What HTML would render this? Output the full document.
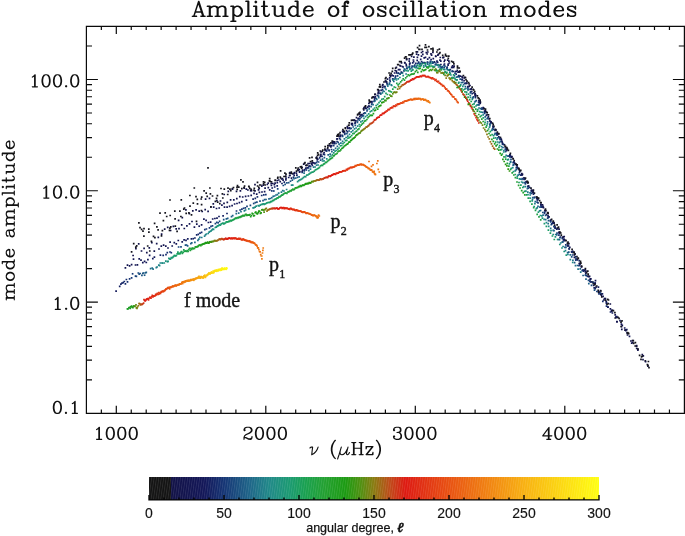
<!DOCTYPE html><html><head><meta charset="utf-8"><title>Amplitude of oscillation modes</title><style>html,body{margin:0;padding:0;background:#fff}body{width:685px;height:536px;position:relative;overflow:hidden;font-family:"Liberation Sans",sans-serif}.t{position:absolute;white-space:nowrap;color:#111;line-height:1;opacity:0.99;will-change:opacity}.s{font-family:"Liberation Serif",serif;font-size:20px;-webkit-text-stroke:0.38px #111}.s sub{font-size:12px;vertical-align:baseline;position:relative;top:6.9px;margin-left:0.3px}.c{font-family:"Liberation Sans",sans-serif;font-size:14px;transform:translateX(-50%) scaleX(1.0);-webkit-text-stroke:0.15px #111}.a{font-family:"Liberation Sans",sans-serif;font-size:13.4px;transform:translateX(-50%) scaleX(0.935);-webkit-text-stroke:0.25px #111}.h{position:absolute;color:transparent;white-space:nowrap;font-family:"Liberation Serif",serif;line-height:1;overflow:hidden}</style></head><body><svg width="685" height="536" viewBox="0 0 685 536" style="position:absolute;left:0;top:0"><rect x="0" y="0" width="685" height="536" fill="#fff"/><g fill="none" stroke-width="1.7" stroke-linecap="square"><path d="M127.4 308.8h0M447.9 75.5h0M484.7 124.4h0M520.1 188.0h0" stroke="#21a02e"/><path d="M128.0 309.0h0M195.9 246.8h0M246.9 215.4h0M294.5 189.2h0M339.9 151.0h0M369.1 116.5h0M411.8 74.1h0M449.2 74.4h0M486.1 127.2h0M521.7 190.6h0" stroke="#219f2b"/><path d="M128.9 307.8h0M197.3 246.7h0M248.4 215.1h0" stroke="#209e28"/><path d="M129.5 307.4h0M297.0 187.5h0M453.2 77.8h0M490.4 135.4h0" stroke="#1f9e25"/><path d="M130.3 308.4h0M199.4 245.0h0M250.7 216.6h0M454.5 82.9h0M491.9 139.4h0" stroke="#1f9d22"/><path d="M130.8 306.8h0M299.5 186.7h0M345.3 145.5h0M417.8 72.4h0M455.8 82.5h0M493.3 141.4h0" stroke="#1e9d20"/><path d="M131.5 306.1h0M201.5 244.5h0M252.9 213.8h0M375.5 110.2h0" stroke="#1d9c1d"/><path d="M132.2 307.2h0M202.9 244.0h0M254.4 215.5h0" stroke="#1c9c1a"/><path d="M132.9 307.7h0M303.6 185.3h0M349.8 142.2h0M422.4 69.7h0M460.9 89.4h0M498.8 150.2h0" stroke="#1c9b17"/><path d="M133.6 306.0h0" stroke="#209910"/><path d="M134.2 306.3h0M310.8 182.8h0M471.9 107.0h0" stroke="#399410"/><path d="M135.0 306.2h0" stroke="#528e10"/><path d="M136.0 304.9h0" stroke="#608a10"/><path d="M136.3 307.8h0" stroke="#6c8510"/><path d="M137.0 308.4h0" stroke="#778110"/><path d="M137.4 307.1h0" stroke="#837d10"/><path d="M138.3 305.8h0" stroke="#8d7711"/><path d="M139.1 303.5h0M267.7 210.1h0" stroke="#966f12"/><path d="M139.5 303.6h0" stroke="#9f6713"/><path d="M140.4 304.9h0M493.7 148.2h0" stroke="#a75f14"/><path d="M140.6 304.0h0M458.1 86.4h0" stroke="#b05716"/><path d="M141.4 304.5h0" stroke="#b84f17"/><path d="M142.1 304.4h0M321.7 179.4h0" stroke="#c14718"/><path d="M142.6 304.1h0M462.0 92.1h0" stroke="#c63e16"/><path d="M143.6 303.2h0M373.5 121.6h0" stroke="#cc3615"/><path d="M144.0 299.7h0" stroke="#d42813"/><path d="M144.7 300.5h0" stroke="#dd1a10"/><path d="M145.3 301.0h0M279.2 208.7h0M332.4 175.2h0M468.7 102.9h0" stroke="#de1b10"/><path d="M146.1 299.9h0M229.6 238.2h0M280.0 207.9h0M333.2 174.3h0M380.8 115.2h0M415.2 78.0h0M469.6 104.3h0" stroke="#de1c10"/><path d="M146.6 299.0h0M230.3 238.5h0M280.7 207.5h0M333.9 174.2h0" stroke="#df1d11"/><path d="M147.3 298.9h0M281.4 207.5h0M334.7 173.8h0M382.4 113.6h0M417.0 76.8h0M471.5 107.6h0" stroke="#df1e11"/><path d="M147.8 298.7h0M231.6 238.0h0M282.8 207.8h0M418.8 76.8h0M473.3 111.0h0" stroke="#df2011"/><path d="M148.5 299.9h0M232.2 238.6h0M283.5 207.7h0M336.2 173.4h0M384.0 113.3h0M419.6 76.7h0M474.2 113.8h0" stroke="#df2111"/><path d="M148.8 298.5h0M284.2 208.7h0M336.9 173.4h0M384.8 112.4h0M420.5 76.2h0M475.1 115.5h0" stroke="#df2211"/><path d="M149.9 297.3h0M232.8 238.4h0M284.9 207.9h0M337.7 173.1h0M385.6 112.1h0M421.4 76.7h0M476.1 117.7h0" stroke="#df2311"/><path d="M150.2 297.7h0M234.1 238.0h0M285.6 208.4h0M423.1 75.7h0M477.9 120.9h0M478.8 123.0h0" stroke="#df2511"/><path d="M151.0 298.2h0M286.3 208.3h0M339.2 172.2h0M387.2 111.0h0M424.0 75.7h0" stroke="#df2611"/><path d="M151.7 296.7h0" stroke="#e02712"/><path d="M152.3 295.4h0M235.4 238.0h0M287.7 208.5h0M340.7 171.8h0M388.8 109.7h0M425.7 76.6h0M426.6 77.0h0" stroke="#e02812"/><path d="M153.0 296.8h0M236.0 238.4h0M289.1 208.8h0M342.1 171.5h0M428.3 76.6h0" stroke="#e02a12"/><path d="M153.2 295.9h0M236.7 239.0h0M289.8 209.3h0M390.4 108.0h0M429.2 77.4h0" stroke="#e02b12"/><path d="M154.0 296.2h0M237.3 239.1h0M290.5 208.4h0M342.9 170.8h0M391.1 107.8h0M430.1 77.5h0" stroke="#e02c12"/><path d="M154.6 296.0h0M291.2 208.7h0M343.6 170.8h0M391.9 107.4h0M430.9 77.8h0" stroke="#e02d12"/><path d="M155.3 295.6h0" stroke="#e12e12"/><path d="M155.7 294.3h0M239.2 239.2h0M293.3 209.5h0M345.8 170.5h0M433.4 79.0h0" stroke="#e13012"/><path d="M156.4 294.8h0M294.0 209.4h0M346.5 169.3h0M394.3 106.2h0M434.3 79.0h0" stroke="#e13112"/><path d="M157.0 294.1h0M436.0 79.5h0" stroke="#e13312"/><path d="M157.4 293.3h0M241.1 239.5h0M296.0 210.3h0M348.0 168.7h0M436.8 81.1h0" stroke="#e23412"/><path d="M158.2 294.5h0M348.8 168.7h0M438.5 81.4h0" stroke="#e23611"/><path d="M158.9 292.7h0M241.7 239.7h0M296.7 209.8h0M397.4 104.1h0" stroke="#e23711"/><path d="M159.3 293.9h0M242.3 239.8h0M297.4 210.7h0M440.2 83.3h0" stroke="#e33911"/><path d="M160.2 293.1h0M398.1 104.3h0M441.0 84.4h0" stroke="#e33a11"/><path d="M160.5 293.3h0M242.9 239.1h0M298.1 210.7h0M350.2 167.5h0M441.8 84.5h0" stroke="#e33b11"/><path d="M161.1 292.1h0M243.6 239.1h0M298.8 211.0h0M351.0 167.3h0M442.6 85.8h0" stroke="#e43d11"/><path d="M161.5 291.7h0M443.4 85.7h0" stroke="#e43e11"/><path d="M162.4 291.7h0M299.5 211.1h0" stroke="#e44011"/><path d="M162.7 291.1h0M244.8 239.9h0M400.5 103.0h0" stroke="#e54111"/><path d="M163.4 291.6h0M300.2 211.1h0M352.4 167.4h0M445.9 89.2h0" stroke="#e54211"/><path d="M164.1 290.9h0M300.9 211.1h0M353.1 167.2h0M401.3 103.0h0M447.6 90.6h0" stroke="#e54411"/><path d="M164.6 290.4h0M246.1 240.3h0M448.4 90.9h0" stroke="#e64511"/><path d="M165.0 290.4h0M246.7 240.8h0M449.2 91.9h0" stroke="#e64711"/><path d="M165.8 289.4h0M354.6 166.7h0M450.0 93.1h0" stroke="#e64810"/><path d="M166.0 289.0h0M451.6 94.8h0" stroke="#e74a10"/><path d="M166.7 289.1h0" stroke="#e74c10"/><path d="M167.4 288.2h0M454.0 97.0h0" stroke="#e74e10"/><path d="M167.9 287.7h0M249.2 240.9h0M304.2 211.9h0M356.8 165.5h0M454.9 98.8h0" stroke="#e84f10"/><path d="M168.4 288.1h0M249.8 241.7h0M304.9 212.1h0M357.5 164.8h0M456.5 100.4h0" stroke="#e85110"/><path d="M169.2 287.4h0M305.6 212.9h0" stroke="#e85310"/><path d="M169.6 288.9h0M306.3 213.4h0" stroke="#e95410"/><path d="M170.0 287.5h0M251.0 242.4h0M307.0 212.8h0M408.1 100.4h0" stroke="#e95610"/><path d="M170.7 287.1h0M251.6 242.2h0M307.6 213.2h0M408.9 99.8h0" stroke="#e95810"/><path d="M171.1 287.3h0M252.2 242.6h0M308.3 213.5h0M361.1 164.1h0" stroke="#ea5a10"/><path d="M171.8 287.1h0M309.0 213.6h0M410.4 99.4h0" stroke="#ea5b10"/><path d="M172.6 286.1h0M252.8 242.1h0M309.7 214.0h0" stroke="#ea5d10"/><path d="M172.7 286.4h0M362.5 164.5h0M411.9 99.9h0" stroke="#ea5e10"/><path d="M173.4 286.7h0M311.0 214.5h0M363.2 164.6h0M413.4 99.4h0" stroke="#eb6010"/><path d="M173.9 286.0h0M254.0 243.1h0" stroke="#eb6110"/><path d="M174.6 285.9h0M414.9 99.5h0" stroke="#eb6310"/><path d="M175.3 285.2h0M254.6 243.3h0M312.3 215.2h0M364.6 165.6h0" stroke="#eb6410"/><path d="M175.3 285.6h0M313.0 215.7h0M365.4 165.9h0" stroke="#ec6510"/><path d="M176.2 286.0h0M313.7 215.3h0M366.1 166.8h0" stroke="#ec6710"/><path d="M176.6 285.4h0M255.9 244.8h0M366.8 167.2h0M417.1 98.6h0" stroke="#ec6810"/><path d="M177.3 285.2h0M418.6 98.4h0" stroke="#ec6a10"/><path d="M177.6 285.1h0" stroke="#ed6b10"/><path d="M178.3 284.6h0M315.7 215.8h0M368.9 168.3h0M420.2 98.5h0" stroke="#ed6c10"/><path d="M178.9 285.0h0M316.3 216.7h0M370.4 170.1h0M421.7 99.4h0" stroke="#ed6e10"/><path d="M179.2 284.4h0M257.7 247.8h0M371.1 169.8h0M422.4 99.2h0M371.5 166.4h0" stroke="#ed6f10"/><path d="M179.9 283.9h0M258.3 247.9h0M373.0 164.8h0" stroke="#ed7110"/><path d="M180.4 284.1h0M317.7 217.0h0M373.2 172.1h0M424.6 99.7h0" stroke="#ee7210"/><path d="M181.1 283.8h0M258.9 249.7h0M373.9 172.4h0M425.4 99.7h0M374.2 171.3h0M317.2 217.9h0" stroke="#ee7310"/><path d="M181.8 282.3h0M426.1 100.5h0" stroke="#ee7510"/><path d="M182.3 282.9h0M260.1 251.8h0M375.3 174.3h0M426.8 100.6h0M378.3 169.3h0M379.3 172.0h0" stroke="#ee7610"/><path d="M182.6 283.6h0" stroke="#ef7710"/><path d="M182.9 281.9h0M429.0 102.1h0" stroke="#ef7910"/><path d="M183.6 281.9h0M261.3 256.0h0M429.8 102.6h0M263.2 248.0h0M262.5 253.0h0M262.9 250.4h0M261.8 256.0h0" stroke="#ef7a10"/><path d="M184.0 282.4h0" stroke="#ef7b10"/><path d="M184.5 281.3h0" stroke="#ef7d10"/><path d="M185.0 282.0h0" stroke="#f07e10"/><path d="M185.6 281.6h0" stroke="#f08010"/><path d="M185.9 280.9h0" stroke="#f08110"/><path d="M186.9 280.6h0" stroke="#f08210"/><path d="M187.1 281.1h0" stroke="#f18410"/><path d="M187.7 280.7h0" stroke="#f18510"/><path d="M188.4 280.3h0" stroke="#f18710"/><path d="M188.8 281.1h0" stroke="#f18810"/><path d="M189.2 280.6h0" stroke="#f28910"/><path d="M189.7 280.4h0" stroke="#f28b10"/><path d="M190.5 280.6h0" stroke="#f28c10"/><path d="M190.8 279.6h0" stroke="#f28d10"/><path d="M191.3 280.2h0" stroke="#f28f10"/><path d="M191.7 279.9h0" stroke="#f39010"/><path d="M192.4 279.5h0" stroke="#f39110"/><path d="M192.9 279.6h0" stroke="#f39310"/><path d="M193.7 279.1h0" stroke="#f39410"/><path d="M193.7 280.3h0" stroke="#f49510"/><path d="M194.1 279.4h0" stroke="#f49710"/><path d="M194.6 279.4h0" stroke="#f49810"/><path d="M195.4 279.0h0" stroke="#f49a10"/><path d="M195.6 278.4h0" stroke="#f59c10"/><path d="M196.4 278.5h0" stroke="#f59e10"/><path d="M196.5 278.1h0" stroke="#f59f10"/><path d="M197.2 278.2h0" stroke="#f6a110"/><path d="M198.0 277.9h0" stroke="#f6a310"/><path d="M198.3 277.7h0" stroke="#f6a510"/><path d="M198.4 277.1h0" stroke="#f7a710"/><path d="M199.0 276.4h0" stroke="#f7a910"/><path d="M199.3 278.0h0" stroke="#f7ab10"/><path d="M200.1 277.1h0" stroke="#f7ad10"/><path d="M200.4 278.2h0" stroke="#f8af10"/><path d="M201.1 276.7h0" stroke="#f8b110"/><path d="M201.4 276.9h0" stroke="#f8b210"/><path d="M202.1 277.6h0" stroke="#f8b410"/><path d="M202.6 277.1h0" stroke="#f9b510"/><path d="M203.1 277.9h0" stroke="#f9b710"/><path d="M203.4 277.7h0" stroke="#f9b810"/><path d="M203.8 276.0h0" stroke="#f9ba10"/><path d="M204.2 276.8h0" stroke="#f9bc10"/><path d="M204.8 275.2h0" stroke="#f9bd10"/><path d="M205.4 277.4h0" stroke="#f9bf10"/><path d="M205.6 276.4h0" stroke="#fac010"/><path d="M206.5 275.5h0" stroke="#fac210"/><path d="M206.7 275.6h0" stroke="#fac310"/><path d="M207.4 274.9h0" stroke="#fac510"/><path d="M207.7 274.5h0" stroke="#fac710"/><path d="M208.0 274.4h0" stroke="#fac810"/><path d="M208.6 274.0h0" stroke="#fbca10"/><path d="M209.0 272.9h0" stroke="#fbcb10"/><path d="M209.4 273.8h0" stroke="#fbcd10"/><path d="M210.1 274.0h0" stroke="#fbcf10"/><path d="M210.6 273.1h0" stroke="#fbd010"/><path d="M211.1 273.2h0" stroke="#fbd210"/><path d="M211.2 272.6h0" stroke="#fcd310"/><path d="M211.6 272.0h0" stroke="#fcd510"/><path d="M212.1 272.7h0" stroke="#fcd710"/><path d="M212.7 272.9h0" stroke="#fcd810"/><path d="M213.2 271.1h0" stroke="#fcda10"/><path d="M213.6 272.8h0" stroke="#fcdb10"/><path d="M214.1 271.9h0" stroke="#fcdd10"/><path d="M214.7 270.5h0" stroke="#fcde10"/><path d="M214.7 271.1h0" stroke="#fde010"/><path d="M215.6 271.0h0" stroke="#fde110"/><path d="M216.0 270.4h0" stroke="#fde210"/><path d="M216.5 271.3h0" stroke="#fde310"/><path d="M216.6 270.1h0" stroke="#fde410"/><path d="M217.5 270.7h0" stroke="#fde510"/><path d="M217.7 270.5h0" stroke="#fde610"/><path d="M218.2 270.7h0" stroke="#fde710"/><path d="M218.3 269.6h0" stroke="#fde910"/><path d="M219.2 269.7h0" stroke="#fdea10"/><path d="M219.4 269.6h0" stroke="#fdeb10"/><path d="M220.0 270.3h0" stroke="#feec10"/><path d="M220.3 269.2h0" stroke="#feed10"/><path d="M221.0 269.3h0" stroke="#feee10"/><path d="M221.5 270.2h0" stroke="#feef10"/><path d="M221.9 268.7h0" stroke="#fef010"/><path d="M222.1 268.0h0" stroke="#fef110"/><path d="M222.6 269.3h0" stroke="#fef210"/><path d="M223.1 269.0h0" stroke="#fef310"/><path d="M223.4 269.0h0" stroke="#fef410"/><path d="M223.9 269.3h0" stroke="#fef510"/><path d="M224.4 268.1h0" stroke="#fef610"/><path d="M224.6 269.1h0" stroke="#fef710"/><path d="M225.2 269.0h0" stroke="#fef810"/><path d="M225.7 268.8h0" stroke="#fff910"/><path d="M226.2 269.3h0" stroke="#fffb10"/><path d="M226.3 267.9h0" stroke="#fffc10"/><path d="M226.9 268.3h0" stroke="#fffd10"/><path d="M116.1 291.1h0M152.8 258.6h0M186.0 240.4h0M217.0 218.1h0M272.2 188.0h0M299.6 172.2h0M326.2 150.9h0M352.4 123.5h0M378.1 93.6h0M403.2 67.0h0M427.7 59.1h0M451.7 67.4h0M475.4 96.1h0M498.8 136.8h0M521.9 174.9h0M544.8 210.4h0M567.5 245.8h0M590.1 279.6h0M612.4 313.0h0" stroke="#12185a"/><path d="M119.7 286.4h0M191.4 238.8h0" stroke="#131e60"/><path d="M120.9 284.2h0" stroke="#132062"/><path d="M122.0 283.2h0M160.4 255.1h0" stroke="#132264"/><path d="M123.2 282.6h0M196.7 234.9h0" stroke="#132566"/><path d="M124.3 281.5h0M163.2 255.4h0M198.3 234.3h0" stroke="#132768"/><path d="M125.4 283.9h0M200.0 233.1h0" stroke="#13296a"/><path d="M126.4 279.5h0M166.0 254.6h0M201.6 232.3h0M261.7 195.5h0" stroke="#132b6c"/><path d="M127.5 281.8h0M167.3 252.6h0M322.1 156.4h0M350.0 128.7h0M377.3 95.5h0M404.0 70.9h0M430.3 62.5h0M456.2 74.2h0M481.8 108.0h0M506.8 149.8h0M531.3 191.1h0M555.4 228.1h0M579.2 260.6h0M602.8 301.4h0" stroke="#142d6e"/><path d="M129.6 278.9h0M170.0 252.0h0" stroke="#143171"/><path d="M131.6 277.9h0M209.5 227.9h0M302.2 172.3h0" stroke="#143675"/><path d="M132.6 273.8h0" stroke="#153876"/><path d="M135.5 276.1h0M277.7 188.8h0" stroke="#164079"/><path d="M136.4 276.4h0M178.6 247.0h0M216.8 222.3h0" stroke="#17437a"/><path d="M138.3 273.0h0M181.0 246.9h0M344.8 134.5h0M374.0 101.3h0M402.5 72.9h0M430.3 61.3h0M457.6 76.6h0M484.5 113.4h0M511.0 159.3h0M537.1 202.1h0M562.9 241.9h0M588.5 280.4h0" stroke="#18487c"/><path d="M139.2 274.2h0M316.6 162.7h0" stroke="#184a7d"/><path d="M140.1 273.5h0M318.6 162.0h0" stroke="#194d7e"/><path d="M141.9 275.3h0M185.5 245.2h0" stroke="#1a5280"/><path d="M142.8 273.4h0M186.6 245.0h0" stroke="#1a5482"/><path d="M143.7 273.0h0M187.6 245.9h0M292.3 180.1h0" stroke="#1b5783"/><path d="M144.6 275.2h0" stroke="#1b5984"/><path d="M145.5 272.8h0" stroke="#1b5c85"/><path d="M146.3 272.3h0M190.8 243.6h0M361.4 117.3h0M391.7 85.5h0M421.1 65.1h0M449.8 72.1h0M477.9 104.8h0M505.5 151.6h0M532.7 197.6h0M559.5 239.7h0M586.0 279.1h0" stroke="#1c5e86"/><path d="M150.6 268.7h0M304.1 173.2h0" stroke="#1d6b88"/><path d="M152.2 268.2h0M197.9 240.3h0" stroke="#1e7088"/><path d="M153.1 269.1h0M198.8 239.1h0M375.0 101.0h0M406.1 74.0h0M436.4 64.8h0M465.9 88.5h0M494.7 134.4h0M522.9 182.7h0M550.7 228.3h0M578.1 269.1h0" stroke="#1e7288"/><path d="M156.3 267.6h0M313.6 167.2h0M349.5 134.4h0" stroke="#1e7c88"/><path d="M157.1 267.0h0M315.1 167.0h0" stroke="#1e7e88"/><path d="M158.8 265.2h0M205.5 234.9h0" stroke="#1f8388"/><path d="M159.6 265.7h0M206.4 234.0h0M387.8 86.1h0M419.8 64.7h0M450.9 75.0h0M481.1 112.2h0M510.6 162.2h0M539.6 210.8h0M567.9 254.4h0" stroke="#1f8588"/><path d="M160.3 263.0h0M389.5 84.5h0M421.7 63.4h0M452.9 77.5h0M483.2 114.8h0M512.8 167.7h0M541.9 215.8h0M570.3 259.7h0" stroke="#1f8888"/><path d="M161.9 263.0h0M209.1 232.1h0M322.5 161.0h0M359.3 124.7h0" stroke="#1e8a85"/><path d="M162.7 263.1h0M210.0 231.5h0M253.1 207.9h0M360.9 121.9h0" stroke="#1e8b84"/><path d="M164.3 263.0h0M211.8 230.1h0M396.5 80.0h0M429.2 65.1h0M460.8 84.8h0M491.6 130.5h0M521.6 182.0h0M551.0 230.6h0" stroke="#1e8d81"/><path d="M165.8 261.2h0M213.6 229.3h0M298.8 180.6h0M365.6 116.6h0" stroke="#1d8f7e"/><path d="M167.4 261.6h0M215.3 227.5h0M301.1 179.3h0M331.0 156.0h0M368.7 113.8h0" stroke="#1c927b"/><path d="M168.1 261.3h0M216.2 227.1h0M302.3 178.6h0" stroke="#1c937a"/><path d="M168.9 258.4h0M217.0 226.3h0M303.4 177.7h0M371.7 110.9h0" stroke="#1c9478"/><path d="M169.7 258.9h0M217.9 225.8h0M304.5 176.7h0M406.5 70.7h0M440.0 65.4h0M472.3 99.5h0M503.7 152.0h0M534.2 206.5h0M564.2 251.5h0" stroke="#1b9577"/><path d="M170.4 259.2h0M218.8 225.3h0M305.7 176.6h0M408.1 70.8h0M441.7 68.5h0M474.1 103.8h0M505.6 157.0h0M536.3 208.7h0M566.3 255.1h0" stroke="#1b9675"/><path d="M171.2 257.6h0M219.6 224.9h0M264.2 204.4h0M306.8 175.2h0M336.5 150.5h0M374.6 108.0h0" stroke="#1b9774"/><path d="M171.9 257.9h0M220.4 225.1h0M265.1 203.9h0M376.1 105.5h0" stroke="#1b9873"/><path d="M172.7 257.3h0M221.3 223.9h0M266.1 203.5h0M309.0 174.2h0M377.6 104.4h0" stroke="#1a9971"/><path d="M173.4 256.6h0M222.1 223.5h0M310.0 173.4h0" stroke="#1a9a6f"/><path d="M174.2 255.6h0M223.0 223.0h0M268.0 202.5h0M414.5 67.4h0M448.6 70.1h0M481.4 115.6h0M513.4 171.7h0M544.4 223.6h0" stroke="#1a9b6d"/><path d="M174.9 255.6h0M223.8 223.8h0M341.7 145.5h0M416.1 67.6h0M450.3 73.7h0M483.3 117.9h0M515.3 174.5h0M546.4 226.3h0" stroke="#1a9b6a"/><path d="M175.7 255.8h0M224.6 223.3h0M269.9 202.4h0" stroke="#199c68"/><path d="M176.4 255.5h0M225.5 223.0h0M270.8 201.7h0M383.3 98.9h0" stroke="#199c65"/><path d="M177.2 253.8h0M226.3 221.9h0M384.7 96.6h0" stroke="#199d62"/><path d="M177.9 252.2h0M227.1 221.9h0M272.7 200.6h0M345.5 140.7h0M420.7 66.4h0M455.3 79.7h0M488.6 129.0h0M520.9 185.1h0M552.4 236.0h0" stroke="#199d60"/><path d="M178.7 253.8h0M227.9 221.9h0M273.6 200.3h0M346.8 140.4h0M422.2 63.6h0M456.9 79.8h0M490.3 131.7h0M522.8 187.5h0M554.3 239.5h0" stroke="#199e5d"/><path d="M179.4 253.3h0M228.8 221.4h0M348.0 138.2h0M423.7 67.2h0M458.5 83.1h0M492.1 134.6h0M524.6 191.4h0" stroke="#199e5a"/><path d="M180.1 253.7h0M229.6 221.4h0M275.4 199.0h0" stroke="#189f58"/><path d="M180.9 252.4h0M230.4 220.4h0M276.3 198.8h0M390.1 91.3h0" stroke="#189f55"/><path d="M181.6 251.7h0M231.2 220.9h0M277.2 197.9h0" stroke="#18a053"/><path d="M182.3 253.3h0M232.0 220.3h0M278.1 197.9h0M351.7 135.5h0M428.2 66.9h0M463.4 90.0h0M497.3 144.7h0M530.1 201.3h0" stroke="#18a050"/><path d="M183.1 252.4h0M232.8 220.0h0M279.0 196.6h0M352.9 133.6h0M429.7 66.7h0M465.0 91.9h0M499.0 147.4h0M531.9 204.2h0" stroke="#19a04e"/><path d="M183.8 249.9h0M233.6 219.6h0M279.9 197.0h0" stroke="#19a04c"/><path d="M184.5 251.4h0M234.4 219.1h0M280.8 196.2h0M395.5 87.5h0" stroke="#1aa04a"/><path d="M185.2 251.1h0M235.2 218.3h0M355.3 132.0h0" stroke="#1aa048"/><path d="M186.0 251.0h0M236.0 218.2h0M282.6 195.2h0M356.5 131.1h0M434.0 66.8h0M469.6 99.6h0M504.0 156.8h0M537.2 214.4h0" stroke="#1ba046"/><path d="M186.7 251.5h0M236.7 218.3h0M283.4 194.2h0M435.4 70.7h0M471.2 101.5h0M505.7 159.2h0M539.0 216.9h0" stroke="#1ca044"/><path d="M187.4 250.5h0M237.5 217.5h0M284.3 193.5h0" stroke="#1ca042"/><path d="M188.1 251.5h0M238.3 217.8h0M285.2 193.1h0M400.7 81.9h0" stroke="#1da040"/><path d="M188.8 249.7h0M239.1 217.0h0M286.0 193.1h0M401.9 80.5h0" stroke="#1ea03e"/><path d="M189.6 248.3h0M239.9 217.3h0M286.9 193.3h0M361.2 125.2h0M403.2 78.9h0M439.7 69.3h0M475.8 109.2h0M510.6 169.4h0" stroke="#1ea03c"/><path d="M190.3 250.3h0M240.7 216.7h0M287.8 192.0h0M441.1 69.9h0M477.3 111.2h0M512.2 172.9h0" stroke="#1fa03a"/><path d="M191.0 248.6h0M241.5 216.7h0" stroke="#1fa038"/><path d="M191.7 249.5h0M242.2 215.9h0M289.5 191.4h0" stroke="#20a036"/><path d="M192.4 248.2h0M243.0 215.4h0M335.2 154.5h0" stroke="#21a035"/><path d="M193.1 248.7h0M243.8 215.8h0M336.1 154.0h0" stroke="#21a033"/><path d="M193.8 248.5h0M244.6 215.7h0M337.1 153.3h0" stroke="#22a031"/><path d="M194.5 248.5h0M245.3 214.7h0M338.0 151.7h0M366.9 119.5h0M409.4 75.7h0" stroke="#22a02f"/><path d="M195.2 247.0h0M246.1 214.4h0M338.9 151.0h0M368.0 117.7h0M410.6 74.7h0" stroke="#219f2d"/><path d="M196.6 247.0h0M247.6 215.2h0" stroke="#209f2a"/><path d="M198.0 246.4h0M249.1 215.1h0M342.6 148.1h0" stroke="#1f9e26"/><path d="M198.7 245.7h0M249.9 214.5h0M343.5 147.1h0M372.3 115.4h0M415.4 71.7h0" stroke="#1f9e24"/><path d="M200.1 245.2h0M251.4 215.5h0M298.7 186.6h0M373.4 113.6h0" stroke="#1e9d21"/><path d="M200.8 245.6h0M252.2 213.3h0M374.5 110.7h0" stroke="#1e9d1f"/><path d="M202.2 244.7h0M253.7 215.8h0M348.0 143.7h0M420.1 68.4h0M458.3 87.3h0M496.1 145.9h0" stroke="#1d9c1b"/><path d="M203.6 243.8h0M255.2 212.6h0M377.7 109.2h0" stroke="#1c9c18"/><path d="M204.3 243.6h0M255.9 212.0h0" stroke="#1c9b16"/><path d="M205.0 243.3h0M256.7 213.3h0M304.4 185.0h0M350.7 140.7h0M462.1 91.4h0M500.2 153.3h0" stroke="#1b9b15"/><path d="M205.7 242.7h0M257.4 213.8h0M305.2 184.2h0M351.5 140.2h0M379.7 105.8h0" stroke="#1b9b13"/><path d="M206.3 243.2h0M258.2 212.6h0M306.0 183.6h0M380.8 105.3h0" stroke="#1a9a11"/><path d="M207.0 242.9h0M258.9 211.1h0M306.8 184.0h0M353.3 138.4h0" stroke="#1b9a10"/><path d="M207.7 242.2h0M259.7 211.3h0M307.6 183.4h0M354.2 137.9h0M426.9 67.4h0M465.9 98.1h0M504.2 161.5h0" stroke="#1f9910"/><path d="M208.4 243.1h0M260.4 213.4h0M308.4 183.7h0M355.0 137.2h0" stroke="#239810"/><path d="M209.1 242.9h0M261.1 212.8h0" stroke="#279710"/><path d="M209.7 241.8h0M261.9 209.8h0M310.0 183.1h0M356.8 134.8h0" stroke="#2b9710"/><path d="M210.4 241.7h0" stroke="#379510"/><path d="M211.1 242.1h0" stroke="#3f9310"/><path d="M211.8 241.6h0M389.9 95.0h0" stroke="#489110"/><path d="M212.5 241.5h0" stroke="#518f10"/><path d="M213.1 241.5h0" stroke="#5c8b10"/><path d="M213.8 241.3h0" stroke="#678710"/><path d="M214.5 240.6h0" stroke="#728310"/><path d="M215.2 240.6h0" stroke="#7c7f10"/><path d="M215.8 240.9h0M447.2 75.8h0" stroke="#877b10"/><path d="M216.5 240.8h0" stroke="#8f7611"/><path d="M217.1 240.6h0M454.2 81.9h0" stroke="#957012"/><path d="M217.8 240.3h0" stroke="#9c6a13"/><path d="M218.5 240.0h0M456.2 84.4h0" stroke="#a26314"/><path d="M219.2 239.0h0M457.1 85.2h0" stroke="#a95d15"/><path d="M219.8 239.2h0" stroke="#af5716"/><path d="M220.5 239.6h0M369.4 124.6h0M459.1 87.7h0" stroke="#b65117"/><path d="M221.1 238.9h0" stroke="#bc4b17"/><path d="M221.8 238.7h0M371.0 123.6h0" stroke="#c14618"/><path d="M222.5 239.2h0M405.2 83.7h0" stroke="#c44117"/><path d="M223.1 239.4h0" stroke="#c83c16"/><path d="M223.8 239.6h0M324.8 177.8h0" stroke="#cb3715"/><path d="M224.4 239.2h0" stroke="#ce3114"/><path d="M225.1 238.8h0" stroke="#d12c13"/><path d="M225.7 238.2h0" stroke="#d52713"/><path d="M226.4 239.0h0M328.6 176.1h0" stroke="#d82212"/><path d="M227.0 239.2h0" stroke="#db1d11"/><path d="M227.7 238.6h0" stroke="#dd1910"/><path d="M228.3 238.6h0M277.1 208.2h0M277.8 208.8h0M331.7 175.2h0M378.4 117.2h0M379.2 117.1h0M413.4 79.3h0M467.7 101.2h0" stroke="#de1910"/><path d="M229.0 238.0h0M278.5 208.8h0M380.0 115.5h0M414.3 78.7h0" stroke="#de1a10"/><path d="M230.9 238.7h0M282.1 208.4h0M335.4 174.5h0M383.2 113.3h0M417.9 76.8h0M472.4 109.2h0" stroke="#df1f11"/><path d="M233.5 238.4h0M338.4 173.2h0M386.4 111.0h0M422.3 75.7h0M477.0 119.7h0" stroke="#df2411"/><path d="M234.7 238.7h0M287.0 208.1h0M339.9 171.8h0M388.0 109.7h0M424.9 75.6h0" stroke="#df2711"/><path d="M237.9 239.2h0M291.9 209.2h0M344.3 170.5h0M392.7 107.7h0M431.7 78.6h0" stroke="#e02e12"/><path d="M238.6 238.3h0M292.6 209.6h0M345.1 170.8h0M393.5 106.2h0M432.6 77.9h0" stroke="#e12f12"/><path d="M239.8 238.7h0M294.6 210.2h0M347.3 169.9h0M395.1 106.5h0M435.1 80.3h0" stroke="#e13212"/><path d="M240.5 238.5h0M295.3 210.4h0M395.8 105.0h0" stroke="#e23312"/><path d="M244.2 240.1h0M351.7 167.7h0M399.7 103.8h0M444.3 86.5h0" stroke="#e43f11"/><path d="M245.4 240.3h0M446.7 89.2h0" stroke="#e54311"/><path d="M247.3 240.7h0M302.2 212.2h0M402.8 102.0h0M450.8 94.2h0" stroke="#e64910"/><path d="M247.9 241.0h0M302.9 212.4h0M355.3 165.7h0M403.6 102.6h0M452.4 96.3h0" stroke="#e74b10"/><path d="M248.5 241.3h0M303.6 211.8h0M356.0 165.8h0M453.2 96.8h0" stroke="#e74d10"/><path d="M250.4 241.4h0M358.2 165.2h0M406.6 101.1h0M458.1 102.7h0" stroke="#e95310"/><path d="M253.4 242.9h0" stroke="#eb5f10"/><path d="M255.3 244.3h0M416.4 99.1h0" stroke="#ec6610"/><path d="M256.5 245.2h0M315.0 215.5h0M368.2 168.4h0M419.4 98.8h0" stroke="#ec6b10"/><path d="M257.1 246.2h0M369.6 168.8h0M420.9 99.7h0M369.0 161.5h0" stroke="#ed6d10"/><path d="M259.5 251.5h0M374.6 173.7h0M376.9 163.5h0M377.8 160.9h0M375.4 174.5h0M318.6 215.2h0M319.3 216.0h0M318.2 217.6h0" stroke="#ee7410"/><path d="M260.7 254.6h0M428.3 100.9h0" stroke="#ef7810"/><path d="M261.9 258.8h0" stroke="#ef7c10"/><path d="M125.4 267.8h0M154.3 251.2h0M181.7 224.8h0M205.2 209.6h0M208.1 211.3h0M230.6 199.9h0M233.8 199.9h0M255.0 190.9h0M258.5 189.8h0M278.8 180.0h0M282.5 178.6h0M302.1 167.5h0M305.9 165.5h0M324.9 150.0h0M329.0 145.7h0M347.5 127.9h0M351.7 123.7h0M369.8 102.4h0M374.1 97.7h0M392.0 75.1h0M396.4 71.2h0M413.9 57.2h0M418.4 54.8h0M435.7 56.2h0M440.3 57.5h0M457.3 70.4h0M462.0 76.6h0M478.9 100.4h0M483.7 108.3h0M500.3 137.6h0M505.2 146.8h0M521.7 174.8h0M526.6 181.6h0M543.0 206.3h0M548.0 215.9h0M564.2 236.7h0M569.2 248.8h0M585.4 272.0h0M590.5 282.0h0M606.5 303.3h0M611.6 311.3h0M627.5 335.0h0M632.7 342.5h0" stroke="#11134d"/><path d="M127.5 265.1h0M156.7 243.6h0M184.3 228.5h0M210.9 207.0h0M236.8 198.7h0M261.8 186.2h0M286.0 178.2h0M309.7 163.5h0M332.9 143.3h0M355.8 120.8h0M378.4 89.8h0M400.7 66.0h0M422.8 54.4h0M444.8 60.2h0M466.7 83.0h0M488.4 116.9h0M510.0 154.9h0M531.5 190.1h0M552.9 222.4h0M574.3 254.8h0M595.5 280.6h0M616.7 316.5h0M637.9 349.2h0" stroke="#11134e"/><path d="M129.6 265.9h0M159.0 249.0h0M186.9 225.8h0M239.8 196.6h0" stroke="#11134f"/><path d="M131.6 264.7h0M161.3 246.2h0M189.5 223.9h0M213.7 207.2h0M265.1 188.2h0M289.6 175.5h0M313.4 162.9h0M336.8 139.0h0M359.8 116.3h0M382.5 85.3h0M405.0 63.0h0M427.2 54.0h0M449.3 63.0h0M471.2 88.9h0M493.0 126.1h0M514.7 163.1h0M536.3 197.0h0M557.8 228.6h0M579.2 263.5h0M600.5 290.6h0M621.8 329.3h0M643.0 359.6h0" stroke="#12144f"/><path d="M133.5 259.2h0M163.6 245.1h0M192.0 221.5h0M216.5 208.5h0M242.7 197.0h0M268.3 187.7h0M293.0 173.9h0M317.0 158.9h0M340.6 135.2h0M363.8 110.0h0M386.6 81.9h0M409.2 61.2h0M431.6 55.1h0M453.7 67.3h0M475.7 95.2h0M497.6 133.7h0M519.4 170.2h0M541.0 204.6h0M562.6 237.6h0M584.1 270.5h0M605.4 298.6h0M626.8 329.6h0" stroke="#121450"/><path d="M135.5 265.0h0M165.8 246.1h0M194.4 227.2h0M219.2 208.0h0M245.6 196.3h0M248.4 196.0h0M271.4 185.5h0M274.4 184.6h0M296.4 173.2h0M299.7 171.5h0M320.6 156.0h0M324.1 152.6h0M344.3 131.8h0M348.0 128.4h0M367.7 107.1h0M371.5 101.8h0M390.7 76.5h0M394.6 73.0h0M413.4 60.0h0M417.4 57.3h0M435.8 56.5h0M440.0 60.1h0M458.1 72.2h0M462.4 77.7h0M480.2 103.5h0M484.6 111.1h0M502.2 142.2h0M506.7 149.5h0M524.0 177.9h0M528.6 186.2h0M545.8 210.9h0M550.4 220.9h0M567.4 243.3h0M572.1 251.6h0M588.9 276.6h0M593.7 285.3h0M610.4 308.8h0M615.2 314.8h0M631.7 343.2h0M636.7 348.5h0" stroke="#121451"/><path d="M137.4 264.8h0M139.2 258.8h0M168.0 248.0h0M170.1 242.2h0M196.8 224.2h0M221.9 205.1h0M224.5 207.1h0M251.2 195.4h0M277.3 182.6h0M302.8 170.2h0M327.5 148.8h0M351.6 124.3h0M375.3 96.8h0M398.5 69.7h0M421.5 56.2h0M444.2 61.5h0M466.7 83.3h0M489.0 119.0h0M511.1 156.7h0M533.1 192.5h0M555.0 226.5h0M576.7 259.0h0M598.4 291.5h0M620.0 320.7h0" stroke="#121452"/><path d="M141.0 260.2h0M172.2 246.0h0M201.6 224.9h0M227.1 207.1h0M254.0 193.3h0M280.2 181.6h0M305.9 168.2h0M330.9 146.8h0M355.2 120.5h0M378.9 90.8h0M402.4 66.5h0M425.5 57.4h0M448.3 64.0h0M470.9 89.3h0M493.3 127.5h0M515.5 164.3h0M537.6 199.7h0M559.5 233.3h0M581.4 266.6h0M603.1 296.4h0M624.7 328.0h0" stroke="#121553"/><path d="M142.8 262.6h0M174.3 242.7h0M203.9 219.1h0M229.6 206.3h0M256.7 194.1h0M283.1 180.2h0M309.0 166.1h0M334.2 142.5h0M358.6 118.3h0M382.6 87.4h0M406.2 64.3h0M429.4 57.7h0M452.3 67.3h0M475.0 94.9h0M497.5 134.9h0M519.8 171.5h0M542.0 207.1h0M564.0 239.2h0M585.9 271.2h0M607.8 307.2h0M629.5 336.4h0" stroke="#121554"/><path d="M144.6 261.3h0M176.3 243.8h0M206.1 220.4h0M232.1 205.7h0M259.4 192.3h0M262.0 192.0h0M285.9 179.9h0M311.9 164.1h0M337.4 138.9h0M362.0 114.5h0M386.2 82.2h0M409.9 63.2h0M433.3 58.7h0M456.3 71.5h0M479.1 102.1h0M501.7 141.1h0M524.1 179.1h0M546.4 214.6h0M568.5 245.9h0M590.5 278.9h0M612.3 310.4h0" stroke="#121555"/><path d="M146.3 262.5h0M178.3 240.5h0M208.4 222.5h0M234.6 204.0h0M288.7 177.5h0M314.9 163.3h0M340.5 136.5h0M365.4 108.1h0M389.7 77.9h0M413.6 61.6h0M437.0 61.2h0M460.2 76.1h0M483.2 107.6h0M505.9 149.3h0M528.4 186.1h0M550.7 220.1h0M572.9 251.4h0M594.9 283.3h0M616.9 321.5h0" stroke="#121556"/><path d="M147.9 259.7h0M210.6 222.2h0M237.0 203.5h0M264.6 191.7h0M291.5 178.2h0M317.8 159.1h0M343.5 132.5h0M368.7 106.0h0M393.2 75.8h0M417.2 60.3h0M440.8 61.2h0M464.1 80.7h0M487.1 114.6h0M509.9 155.1h0M532.5 192.4h0M555.0 227.9h0M577.2 259.8h0M599.4 292.2h0M621.4 324.2h0" stroke="#121656"/><path d="M149.6 255.4h0M182.2 241.9h0M212.7 219.0h0M239.4 202.6h0M294.2 175.4h0M320.6 156.2h0M346.5 130.7h0M371.9 101.6h0M396.6 72.9h0M420.7 59.4h0M444.5 64.0h0M467.9 86.6h0M491.1 122.4h0M514.0 162.0h0M536.7 198.5h0M559.2 232.9h0M581.6 267.0h0M603.8 300.0h0M625.9 330.6h0" stroke="#121657"/><path d="M154.4 257.1h0M187.8 238.8h0M219.0 216.5h0M274.7 187.0h0" stroke="#121a5c"/><path d="M171.3 252.7h0" stroke="#143373"/><path d="M191.8 242.8h0M331.9 151.6h0M363.4 115.9h0M393.8 81.3h0M423.3 63.0h0M452.1 71.4h0M480.4 108.7h0M508.1 156.1h0M535.3 201.6h0M562.2 242.2h0M588.8 283.6h0" stroke="#1c6187"/><path d="M194.9 242.4h0" stroke="#1d6888"/><path d="M199.8 237.4h0M344.4 138.9h0" stroke="#1e7488"/><path d="M201.7 237.5h0M282.7 190.6h0M347.8 136.2h0" stroke="#1e7988"/><path d="M204.6 236.2h0M286.6 189.5h0M384.2 91.5h0M416.0 67.4h0M446.8 68.7h0M476.8 105.0h0M506.2 155.4h0M534.9 203.7h0M563.1 246.5h0" stroke="#1f8088"/><path d="M208.2 233.5h0M291.6 185.1h0M357.7 126.2h0" stroke="#1f8987"/><path d="M210.9 231.1h0" stroke="#1e8c82"/><path d="M212.7 229.1h0M256.2 206.1h0M297.6 181.7h0M326.8 158.8h0M364.0 118.3h0" stroke="#1d8e80"/><path d="M262.6 209.5h0M470.7 106.2h0M509.5 171.0h0" stroke="#349510"/><path d="M263.3 210.1h0" stroke="#419210"/><path d="M264.1 212.1h0M433.5 67.4h0M476.7 116.2h0" stroke="#4e9010"/><path d="M264.8 209.9h0M361.0 131.4h0" stroke="#5f8a10"/><path d="M265.5 208.9h0" stroke="#708410"/><path d="M266.3 208.4h0M363.6 129.4h0" stroke="#817d10"/><path d="M267.0 211.1h0" stroke="#8e7711"/><path d="M268.5 209.7h0" stroke="#9e6713"/><path d="M269.2 209.5h0" stroke="#a66014"/><path d="M269.9 209.0h0" stroke="#ae5815"/><path d="M270.6 209.0h0M320.2 178.9h0" stroke="#b75117"/><path d="M271.4 208.5h0" stroke="#bf4918"/><path d="M272.1 208.6h0" stroke="#c34217"/><path d="M272.8 208.3h0M324.1 178.2h0M372.7 122.5h0" stroke="#c83b16"/><path d="M273.5 208.5h0" stroke="#cc3415"/><path d="M274.3 208.2h0" stroke="#d12e14"/><path d="M275.0 208.7h0M408.0 81.6h0" stroke="#d52712"/><path d="M275.7 208.5h0M376.8 118.1h0" stroke="#d92011"/><path d="M276.4 208.2h0" stroke="#dc1b11"/><path d="M288.4 209.1h0M341.4 172.0h0M389.6 109.4h0M427.5 76.6h0" stroke="#e02912"/><path d="M301.5 211.8h0M353.8 167.1h0M402.0 103.2h0" stroke="#e64611"/><path d="M310.3 214.0h0M412.7 99.7h0" stroke="#ea5f10"/><path d="M311.7 215.2h0M363.9 165.1h0M414.2 98.7h0" stroke="#eb6210"/><path d="M314.3 215.2h0M367.5 167.5h0M417.9 99.2h0" stroke="#ec6910"/><path d="M317.0 216.3h0M371.8 170.1h0M423.1 99.1h0" stroke="#ed7010"/><path d="M133.1 255.5h0M135.9 248.7h0M158.3 237.3h0M161.6 234.1h0M182.3 217.6h0M205.6 199.2h0M228.3 191.3h0M250.7 190.6h0M272.8 183.5h0M294.6 172.7h0M316.3 157.8h0M337.7 136.2h0M359.1 114.2h0M380.3 87.0h0M401.5 62.9h0M422.7 51.5h0M443.7 57.4h0M464.7 77.3h0M485.6 111.5h0M506.5 147.9h0M527.3 182.3h0M548.1 213.6h0M568.9 243.6h0M589.6 276.3h0M610.3 304.0h0M630.9 341.0h0" stroke="#111147"/><path d="M138.7 243.8h0M164.7 229.2h0M189.4 213.7h0M213.3 203.9h0M236.5 191.4h0M259.2 188.5h0M281.6 179.0h0M303.7 164.2h0M325.6 149.9h0M347.3 126.6h0M368.9 103.3h0M390.3 75.7h0M411.6 56.4h0M432.9 52.3h0M454.1 66.2h0M475.2 93.5h0M496.2 130.0h0M517.2 167.1h0M538.2 198.7h0M559.1 232.1h0M579.9 263.4h0M600.7 294.2h0M621.5 326.7h0M642.3 354.5h0" stroke="#111248"/><path d="M141.5 251.0h0M167.7 227.3h0M192.8 210.8h0M216.9 200.6h0M240.4 190.8h0M263.3 185.1h0M285.8 176.1h0M308.1 163.7h0M330.1 145.6h0M352.0 123.8h0M373.6 96.9h0M395.2 70.5h0M416.6 54.2h0M437.9 55.2h0M459.1 71.9h0M480.3 102.5h0M501.4 139.7h0M522.5 174.4h0M543.5 207.7h0M564.4 239.8h0M585.3 269.6h0M606.2 301.4h0M627.1 332.9h0M647.9 366.1h0" stroke="#111249"/><path d="M144.1 248.3h0M170.6 230.5h0M196.1 209.8h0M220.5 201.0h0M244.2 188.1h0M267.3 184.5h0M290.0 175.4h0M312.4 162.4h0M334.6 141.8h0M356.5 117.6h0M378.3 92.2h0M400.0 65.6h0M421.5 52.5h0M442.9 57.7h0M464.2 78.0h0M485.4 110.8h0M506.6 149.0h0M527.7 183.0h0M548.8 216.8h0M569.8 247.4h0M590.7 278.8h0M611.6 310.3h0M632.5 340.7h0" stroke="#11124a"/><path d="M146.8 252.7h0M173.4 226.3h0M199.2 211.2h0M224.0 203.4h0M247.9 190.0h0M271.2 183.7h0M294.1 173.4h0M316.7 157.1h0M339.0 136.3h0M361.0 114.8h0M382.9 84.7h0M404.7 62.7h0M426.3 52.6h0M447.7 60.1h0M469.1 86.4h0M490.4 121.7h0M511.7 157.1h0M532.8 192.3h0M554.0 223.1h0M575.0 253.8h0M596.0 287.1h0M617.0 321.9h0M637.9 350.1h0" stroke="#11124b"/><path d="M149.3 247.9h0M176.2 228.8h0" stroke="#11134b"/><path d="M151.8 242.6h0M179.0 228.6h0M202.2 211.5h0M227.3 202.4h0M251.5 190.6h0M275.1 183.1h0M298.1 170.4h0M320.9 154.4h0M343.3 131.7h0M365.5 108.5h0M387.5 79.1h0M409.3 58.9h0M431.0 53.8h0M452.6 65.8h0M474.0 92.8h0M495.4 129.8h0M516.7 165.4h0M537.9 198.5h0M559.1 229.2h0M580.2 264.0h0M601.3 295.1h0M622.3 325.3h0M643.3 355.8h0" stroke="#11134c"/><path d="M184.1 239.8h0M214.9 218.5h0M241.8 201.6h0M269.7 189.8h0M296.9 175.1h0M323.5 154.2h0M349.5 127.9h0M375.0 98.2h0M399.9 69.7h0M424.2 57.9h0M448.1 65.1h0M471.7 91.5h0M495.0 130.3h0M518.0 168.4h0M540.8 204.3h0M563.4 239.8h0M585.8 273.6h0M608.1 307.2h0" stroke="#121658"/><path d="M193.2 238.7h0" stroke="#132162"/><path d="M194.9 238.0h0M227.0 213.5h0" stroke="#132364"/><path d="M204.8 229.6h0M265.8 194.6h0" stroke="#143070"/><path d="M206.4 229.0h0M240.1 210.0h0M326.8 150.9h0M355.0 123.3h0M382.5 89.6h0M409.5 66.2h0M436.0 63.0h0M462.0 79.6h0M487.8 118.2h0M513.2 162.6h0M538.0 202.9h0M562.3 238.5h0M586.4 275.7h0" stroke="#143272"/><path d="M211.0 226.3h0M245.3 207.8h0M304.3 170.9h0" stroke="#153976"/><path d="M212.5 225.8h0M247.0 206.4h0" stroke="#153c77"/><path d="M215.4 223.7h0M250.4 205.3h0" stroke="#164179"/><path d="M218.2 222.8h0" stroke="#17467b"/><path d="M219.6 221.3h0" stroke="#18487d"/><path d="M223.7 219.7h0M260.0 201.1h0M320.6 160.1h0M351.2 128.4h0M380.8 93.6h0M409.6 67.6h0M437.8 65.1h0M465.4 86.7h0M492.5 128.9h0M519.3 174.3h0M545.6 215.5h0M571.7 256.9h0" stroke="#195080"/><path d="M226.4 218.9h0M324.4 157.6h0" stroke="#1a5582"/><path d="M227.7 218.4h0M264.6 199.6h0" stroke="#1b5883"/><path d="M231.5 216.6h0M297.4 177.3h0" stroke="#1c5f86"/><path d="M232.7 215.6h0M270.4 198.5h0M299.1 176.8h0" stroke="#1d6287"/><path d="M236.3 213.7h0M337.4 146.3h0" stroke="#1d6988"/><path d="M238.7 213.2h0M340.9 143.1h0" stroke="#1e6e88"/><path d="M241.0 211.7h0M308.9 170.7h0" stroke="#1e7388"/><path d="M244.4 210.8h0M380.6 94.1h0M412.1 70.0h0M442.7 67.7h0M472.5 98.2h0M501.6 146.6h0M530.2 195.0h0M558.2 239.5h0" stroke="#1e7a88"/><path d="M245.6 210.0h0M382.4 92.9h0M414.1 66.3h0M444.8 69.6h0M474.7 102.0h0M503.9 150.5h0M532.5 199.3h0M560.7 243.0h0" stroke="#1e7d88"/><path d="M248.8 208.8h0M318.1 165.0h0M354.5 128.8h0" stroke="#1f8488"/><path d="M254.1 207.6h0M394.8 79.1h0M427.3 63.4h0M458.9 82.3h0M489.5 127.2h0M519.4 178.9h0M548.7 226.4h0" stroke="#1e8c83"/><path d="M255.2 207.1h0M362.5 120.9h0" stroke="#1e8d82"/><path d="M258.2 205.6h0M367.1 115.3h0" stroke="#1d907d"/><path d="M259.2 206.0h0M401.5 73.2h0M434.6 66.7h0M466.6 92.1h0M497.7 142.0h0M528.0 194.6h0M557.6 239.5h0" stroke="#1c917c"/><path d="M260.2 205.2h0M403.2 75.7h0M436.4 69.8h0M468.5 94.2h0M499.7 145.6h0M530.1 198.1h0M559.8 244.5h0" stroke="#1c927a"/><path d="M261.2 204.5h0M332.4 154.6h0M370.2 111.7h0" stroke="#1c9379"/><path d="M262.2 204.3h0M333.8 152.8h0" stroke="#1c9577"/><path d="M263.2 203.9h0M335.1 151.2h0M373.2 109.3h0" stroke="#1b9676"/><path d="M267.0 202.9h0M339.1 148.0h0M412.9 69.8h0M446.9 72.3h0M479.6 111.7h0M511.4 168.3h0M542.4 218.1h0" stroke="#1a9a70"/><path d="M268.9 202.5h0M380.4 101.2h0" stroke="#1a9b6b"/><path d="M271.7 201.5h0" stroke="#199d63"/><path d="M274.5 199.6h0M387.4 94.5h0" stroke="#199e5b"/><path d="M281.7 195.1h0M396.8 83.3h0" stroke="#1ba048"/><path d="M288.6 191.9h0" stroke="#20a038"/><path d="M290.3 190.6h0M364.6 121.1h0M407.0 76.5h0" stroke="#21a034"/><path d="M291.2 190.8h0M365.7 120.7h0M408.2 74.8h0M445.2 71.9h0M481.8 119.1h0M517.0 182.0h0" stroke="#21a032"/><path d="M292.0 189.9h0M446.5 73.4h0M483.2 121.5h0M518.6 185.4h0" stroke="#22a030"/><path d="M292.8 189.2h0" stroke="#22a02e"/><path d="M293.7 189.8h0" stroke="#219f2c"/><path d="M295.4 187.9h0M340.8 149.9h0M413.0 74.1h0M450.5 78.9h0M487.6 130.6h0M523.2 192.7h0" stroke="#209f29"/><path d="M296.2 188.0h0M341.7 148.5h0M451.9 78.5h0M489.0 133.5h0M524.8 194.9h0" stroke="#209e27"/><path d="M297.8 187.5h0" stroke="#1f9e23"/><path d="M300.3 185.6h0M457.1 87.5h0M494.7 143.9h0" stroke="#1d9d1e"/><path d="M301.1 186.3h0M347.1 144.2h0" stroke="#1d9c1c"/><path d="M302.0 185.7h0M376.6 107.6h0" stroke="#1d9c1a"/><path d="M302.8 185.1h0M348.9 142.1h0M421.3 71.6h0M459.6 86.5h0M497.4 149.0h0" stroke="#1c9c19"/><path d="M309.2 182.5h0M355.9 135.6h0" stroke="#279810"/><path d="M311.6 181.7h0" stroke="#479110"/><path d="M312.4 181.5h0" stroke="#568d10"/><path d="M313.2 181.7h0" stroke="#688710"/><path d="M313.9 181.0h0M441.0 73.0h0" stroke="#798010"/><path d="M314.7 181.0h0M448.2 74.7h0M487.0 134.3h0" stroke="#8a7a10"/><path d="M315.5 180.8h0M452.2 80.6h0" stroke="#917411"/><path d="M316.3 180.4h0" stroke="#976e12"/><path d="M317.1 179.8h0M491.5 143.8h0" stroke="#9e6813"/><path d="M317.9 179.8h0" stroke="#a46214"/><path d="M318.6 180.2h0" stroke="#aa5c15"/><path d="M319.4 180.0h0" stroke="#b15616"/><path d="M321.0 179.4h0" stroke="#bd4b17"/><path d="M322.5 178.8h0" stroke="#c34317"/><path d="M323.3 179.0h0" stroke="#c63f16"/><path d="M325.6 177.5h0" stroke="#cd3214"/><path d="M326.4 177.4h0" stroke="#d02e14"/><path d="M327.1 177.3h0M464.9 96.4h0" stroke="#d32a13"/><path d="M327.9 177.4h0" stroke="#d52612"/><path d="M329.4 176.0h0M410.7 80.1h0" stroke="#da1e11"/><path d="M330.2 176.5h0M411.6 80.1h0" stroke="#dc1b10"/><path d="M330.9 175.9h0M412.5 78.9h0" stroke="#de1810"/><path d="M349.5 168.3h0" stroke="#e33811"/><path d="M358.9 165.1h0M407.3 100.5h0" stroke="#e95510"/><path d="M359.7 164.5h0" stroke="#e95710"/><path d="M360.4 164.6h0" stroke="#e95910"/><path d="M361.8 165.0h0M411.2 99.4h0" stroke="#ea5c10"/><path d="M372.5 171.6h0M423.9 100.1h0" stroke="#ee7110"/><path d="M131.6 251.8h0M135.8 247.1h0M140.0 227.6h0M143.9 236.1h0M147.7 246.0h0M151.4 241.3h0M154.9 237.6h0M133.7 243.7h0M138.9 222.9h0M144.0 228.7h0M148.8 229.2h0M153.5 236.4h0M158.1 229.8h0M162.4 230.6h0M166.7 216.5h0M170.8 226.9h0M174.8 211.1h0M136.7 245.9h0M143.0 231.1h0M148.9 232.1h0M154.6 223.4h0M160.0 213.1h0M165.2 212.8h0M170.2 215.5h0M175.1 218.8h0M179.9 211.2h0M184.5 208.0h0M188.9 212.9h0M193.3 203.2h0M197.5 203.9h0M201.6 204.6h0M208.0 167.9h0M194.3 188.0h0M170.0 200.0h0M141.6 229.3h0M149.8 251.0h0M156.9 226.9h0M163.4 220.6h0M169.5 230.3h0M175.3 226.2h0M180.9 216.5h0M186.2 213.3h0M191.5 214.9h0M196.5 221.3h0M201.4 210.5h0M206.2 193.1h0M210.9 206.9h0M215.4 201.4h0M219.8 203.6h0M161.5 235.8h0M169.9 228.2h0M177.1 231.4h0M183.8 209.1h0M190.0 206.2h0M196.0 196.7h0M201.7 197.2h0M207.2 196.3h0M212.5 196.0h0M217.7 202.2h0M222.8 198.0h0M227.7 194.5h0M232.5 188.7h0M237.2 189.5h0M241.8 188.7h0M181.3 199.9h0M189.9 195.5h0M197.3 199.3h0M204.1 190.8h0M210.4 193.8h0M216.5 198.4h0M222.4 193.8h0M228.0 188.2h0M233.5 187.5h0M238.8 187.2h0M244.0 187.5h0M249.0 186.6h0M254.0 190.3h0M258.8 187.3h0M263.6 183.8h0M201.2 199.0h0M209.9 188.0h0M217.4 195.7h0M224.3 189.2h0M230.8 190.6h0M237.0 187.3h0M243.0 181.9h0M248.8 186.4h0M254.3 188.4h0M259.8 185.0h0M265.1 185.0h0M270.2 181.4h0M275.3 180.2h0M280.3 177.0h0M285.2 176.5h0M221.0 188.5h0M229.9 189.1h0M237.5 185.7h0M244.6 186.0h0M251.2 189.3h0M257.5 182.4h0M263.5 181.8h0M269.4 180.8h0M275.1 180.3h0M280.6 177.8h0M286.0 174.1h0M291.3 172.1h0M296.5 171.1h0M301.6 168.3h0M306.6 165.2h0M240.9 179.8h0M249.8 188.4h0M257.6 186.0h0M264.7 182.4h0M271.5 181.9h0M277.9 177.4h0M284.0 176.5h0M290.0 173.1h0M295.8 167.9h0M301.5 166.7h0M307.0 165.3h0M312.3 160.9h0M317.6 155.4h0M322.8 150.2h0M327.8 147.7h0M260.7 185.0h0M269.7 178.7h0M277.7 178.2h0M284.9 173.1h0M291.7 173.4h0M298.2 168.0h0M304.5 163.4h0M310.5 161.7h0M316.5 158.2h0M322.2 151.4h0M327.8 145.7h0M333.2 141.5h0M338.6 135.4h0M343.9 131.1h0M349.0 125.1h0M280.6 170.8h0M289.6 173.1h0M297.7 169.6h0M305.0 162.6h0M312.0 157.3h0M318.6 154.7h0M324.9 149.0h0M331.0 142.9h0M337.0 136.2h0M342.9 129.5h0M348.6 125.4h0M354.1 120.4h0M359.5 113.2h0M364.9 107.0h0M370.1 101.7h0M300.4 166.8h0M309.6 157.8h0M317.7 152.8h0M325.2 146.7h0M332.2 141.1h0M338.9 134.0h0M345.3 128.5h0M351.5 120.3h0M357.6 114.9h0M363.5 108.8h0M369.3 101.0h0M374.9 94.3h0M380.4 86.7h0M385.8 81.1h0M391.1 73.3h0M320.3 151.0h0M329.5 143.8h0M337.7 134.5h0M345.3 127.8h0M352.4 120.2h0M359.1 113.0h0M365.6 105.8h0M371.9 98.0h0M378.0 89.7h0M384.0 82.0h0M389.9 75.0h0M395.6 68.1h0M401.2 61.7h0M406.7 58.9h0M412.1 54.4h0M340.1 132.6h0M349.3 122.8h0M357.7 114.3h0M365.4 106.4h0M372.5 97.2h0M379.4 86.9h0M386.0 77.7h0M392.3 71.4h0M398.5 64.7h0M404.6 58.2h0M410.5 54.8h0M416.3 51.8h0M422.0 49.4h0M427.5 50.0h0M433.0 50.8h0M360.0 112.3h0M369.2 100.1h0M377.7 89.6h0M385.4 78.7h0M392.7 68.4h0M399.6 61.7h0M406.3 57.0h0M412.7 53.5h0M419.0 49.3h0M425.0 47.4h0M431.1 48.9h0M436.9 52.0h0M442.7 55.3h0M448.3 58.3h0M453.9 63.9h0M379.8 84.6h0M389.1 73.0h0M397.7 64.7h0M405.5 56.9h0M412.8 53.0h0M419.8 49.4h0M426.5 47.4h0M433.0 49.4h0M439.4 53.5h0M445.5 55.6h0M451.6 61.3h0M457.5 67.9h0M463.4 75.7h0M469.1 84.0h0M474.7 91.5h0M399.7 61.7h0M409.0 54.9h0M417.6 47.7h0M425.5 44.9h0M432.9 48.3h0M440.0 52.6h0M446.8 56.1h0M453.4 62.1h0M459.7 71.0h0M466.0 79.7h0M472.1 87.2h0M478.1 97.8h0M484.0 108.6h0M489.8 118.6h0M495.4 129.3h0M419.5 45.7h0M428.9 46.7h0M437.6 50.0h0M445.5 54.4h0M453.0 62.1h0M460.1 71.6h0M467.0 81.1h0M473.7 89.9h0M480.1 100.2h0M486.4 112.1h0M492.5 123.2h0M498.6 133.7h0M504.5 144.8h0M510.4 153.4h0M516.1 164.2h0M439.4 49.2h0M448.8 56.2h0M457.5 66.1h0M465.5 77.5h0M473.1 89.3h0M480.3 102.2h0M487.2 112.6h0M493.9 126.3h0M500.4 137.7h0M506.8 147.7h0M513.0 158.8h0M519.1 169.1h0M525.1 178.9h0M531.0 188.1h0M536.8 197.0h0M459.2 68.0h0M468.6 82.5h0M477.4 95.9h0M485.5 109.2h0M493.2 124.3h0M500.4 137.5h0M507.4 149.0h0M514.2 160.7h0M520.8 170.3h0M527.2 181.3h0M533.4 190.1h0M539.6 200.7h0M545.6 210.2h0M551.6 219.3h0M557.4 228.2h0M479.1 98.5h0M488.5 114.8h0M497.3 132.2h0M505.5 146.4h0M513.2 158.5h0M520.5 170.7h0M527.6 181.7h0M534.4 193.2h0M541.1 202.7h0M547.5 213.0h0M553.8 222.6h0M560.0 232.1h0M566.1 240.7h0M572.1 249.4h0M578.0 258.6h0M498.9 133.8h0M508.4 150.3h0M517.2 164.8h0M525.5 178.1h0M533.3 190.8h0M540.7 202.6h0M547.8 212.5h0M554.6 225.1h0M561.3 235.2h0M567.8 243.8h0M574.2 252.2h0M580.5 261.4h0M586.6 272.6h0M592.6 282.0h0M598.6 292.4h0M518.8 168.3h0M528.2 182.7h0M537.2 197.3h0M545.5 209.1h0M553.3 221.1h0M560.8 233.0h0M567.9 243.0h0M574.8 254.3h0M581.6 266.2h0M588.2 274.1h0M594.6 283.9h0M600.9 291.0h0M607.0 304.3h0M613.1 310.7h0M619.1 318.3h0M538.6 198.1h0M548.1 213.2h0M557.1 224.9h0M565.5 240.3h0M573.3 252.7h0M580.9 263.1h0M588.1 274.8h0M595.0 284.7h0M601.8 296.8h0M608.5 300.0h0M614.9 312.6h0M621.2 326.5h0M627.5 333.4h0M633.6 343.4h0M639.6 355.3h0M558.5 227.1h0M568.0 242.1h0M576.9 256.7h0M585.4 268.5h0M593.3 283.6h0M600.9 293.6h0M608.2 303.7h0M615.2 318.0h0M622.0 320.9h0M628.7 333.6h0M635.2 346.0h0M641.6 356.9h0M647.9 365.3h0M578.3 258.1h0M587.8 271.2h0M596.8 286.0h0M605.4 300.1h0M613.4 310.7h0M621.0 322.2h0M628.3 333.0h0M635.4 342.7h0M642.3 356.2h0M649.0 367.6h0M598.2 290.4h0M607.7 299.4h0M616.7 317.5h0M625.3 330.1h0M633.3 340.7h0M641.0 359.3h0M648.4 361.5h0M618.0 317.4h0M627.5 332.7h0M636.6 346.3h0M645.3 360.8h0M637.8 349.0h0M647.4 364.6h0" stroke="#14141c"/><path d="M199.2 226.2h0" stroke="#121453"/><path d="M223.1 215.9h0" stroke="#131f60"/><path d="M236.5 211.0h0M263.8 194.9h0" stroke="#142e6e"/><path d="M241.9 209.2h0M329.2 150.7h0M357.5 121.0h0M385.1 86.5h0M412.1 66.2h0M438.8 65.2h0M464.9 83.4h0M490.8 123.5h0M516.3 167.7h0M541.3 207.2h0M565.8 244.9h0M589.9 281.1h0" stroke="#143474"/><path d="M243.6 208.3h0" stroke="#143775"/><path d="M253.7 203.5h0" stroke="#17467c"/><path d="M255.3 202.6h0M283.3 185.5h0" stroke="#18497d"/><path d="M256.9 202.2h0M285.1 184.3h0" stroke="#184b7e"/><path d="M263.0 200.6h0M355.3 125.3h0M385.2 88.0h0M414.3 66.1h0M442.6 66.7h0M470.5 92.8h0M497.8 137.9h0M524.7 182.6h0M551.3 224.6h0M577.5 265.5h0" stroke="#1a5682"/><path d="M266.0 199.5h0M328.2 154.9h0" stroke="#1b5b84"/><path d="M269.0 198.8h0" stroke="#1c6086"/><path d="M271.8 197.7h0" stroke="#1d6588"/><path d="M273.2 196.3h0M367.3 110.0h0M398.0 73.4h0M427.7 64.2h0M456.8 77.2h0M485.2 116.9h0M513.1 165.2h0M540.6 210.5h0M567.6 252.7h0" stroke="#1d6788"/><path d="M274.6 196.0h0M369.2 108.8h0M400.0 74.0h0M429.9 63.4h0M459.1 76.9h0M487.6 121.9h0M515.6 170.3h0M543.1 215.1h0M570.3 254.8h0" stroke="#1d6a88"/><path d="M276.0 195.0h0M339.1 144.1h0M371.2 106.7h0M402.1 72.5h0M432.1 61.9h0M461.3 82.7h0M490.0 125.6h0M518.1 175.1h0M545.7 219.7h0M572.9 260.4h0" stroke="#1d6c88"/><path d="M277.4 194.6h0M373.1 104.6h0M404.1 69.0h0M434.2 62.5h0M463.6 84.7h0M492.3 129.8h0M520.5 179.2h0M548.2 223.6h0M575.5 265.6h0" stroke="#1e6f88"/><path d="M278.7 193.1h0M342.6 141.3h0" stroke="#1e7188"/><path d="M281.4 192.2h0M310.5 169.1h0" stroke="#1e7688"/><path d="M284.0 191.0h0" stroke="#1e7b88"/><path d="M292.8 185.1h0" stroke="#1e8a86"/><path d="M300.0 179.9h0M329.7 156.6h0" stroke="#1d917d"/><path d="M307.9 175.0h0M337.8 149.1h0" stroke="#1a9872"/><path d="M311.1 172.6h0" stroke="#1a9b6c"/><path d="M312.2 172.2h0" stroke="#1a9b69"/><path d="M313.3 172.0h0M343.0 143.7h0" stroke="#199c67"/><path d="M314.3 171.2h0M344.3 142.5h0" stroke="#199c64"/><path d="M315.4 169.9h0" stroke="#199d61"/><path d="M316.4 169.5h0M386.0 93.4h0" stroke="#199d5f"/><path d="M317.5 168.8h0" stroke="#199e5c"/><path d="M318.5 168.2h0" stroke="#199e59"/><path d="M319.5 167.4h0M349.3 137.7h0" stroke="#189f57"/><path d="M320.5 165.9h0" stroke="#189f54"/><path d="M321.5 165.3h0" stroke="#18a051"/><path d="M322.6 165.4h0M392.8 89.1h0" stroke="#18a04f"/><path d="M323.6 164.1h0M394.2 87.0h0" stroke="#19a04d"/><path d="M324.6 163.7h0M354.1 133.4h0M431.1 66.0h0M466.5 94.4h0M500.6 149.8h0M533.7 207.7h0" stroke="#1aa04b"/><path d="M325.6 162.4h0M432.6 66.6h0M468.1 97.2h0M502.3 154.0h0M535.5 210.3h0" stroke="#1aa049"/><path d="M326.5 162.4h0" stroke="#1ba047"/><path d="M327.5 161.3h0" stroke="#1ca045"/><path d="M328.5 160.3h0M357.7 129.7h0M399.4 83.6h0" stroke="#1ca043"/><path d="M329.5 159.6h0M358.9 128.8h0M436.9 70.8h0M472.7 104.5h0M507.3 163.4h0M540.7 219.8h0" stroke="#1da041"/><path d="M330.4 158.9h0M438.3 70.9h0M474.3 107.1h0M508.9 166.2h0" stroke="#1da03f"/><path d="M331.4 158.3h0" stroke="#1ea03d"/><path d="M332.4 157.7h0" stroke="#1fa03b"/><path d="M333.3 155.8h0M362.3 123.8h0M404.5 80.1h0" stroke="#1fa039"/><path d="M334.2 155.6h0M363.5 122.8h0M405.7 77.9h0M442.4 72.6h0M478.8 114.5h0M513.8 175.0h0" stroke="#20a037"/><path d="M344.4 146.0h0M416.6 70.3h0" stroke="#1e9d22"/><path d="M346.2 144.8h0" stroke="#1e9d1e"/><path d="M352.4 139.1h0" stroke="#1a9a12"/><path d="M357.6 134.4h0" stroke="#369510"/><path d="M358.5 133.6h0" stroke="#409310"/><path d="M359.3 133.0h0M475.5 113.4h0" stroke="#499110"/><path d="M360.2 132.9h0" stroke="#538e10"/><path d="M361.9 130.6h0" stroke="#6a8610"/><path d="M362.7 130.2h0M396.7 92.1h0M439.9 71.3h0M483.6 128.0h0" stroke="#768110"/><path d="M364.4 128.8h0" stroke="#8c7810"/><path d="M365.2 128.2h0" stroke="#937211"/><path d="M366.1 127.0h0" stroke="#9a6b12"/><path d="M366.9 127.1h0" stroke="#a16513"/><path d="M367.8 126.2h0" stroke="#a85e14"/><path d="M368.6 125.7h0" stroke="#af5816"/><path d="M370.2 123.6h0M460.1 89.2h0" stroke="#bd4b18"/><path d="M371.9 123.1h0" stroke="#c54017"/><path d="M374.4 120.2h0M407.0 81.8h0" stroke="#cf3014"/><path d="M375.2 119.7h0" stroke="#d22b13"/><path d="M376.0 119.5h0" stroke="#d62512"/><path d="M377.6 117.7h0" stroke="#dc1c11"/><path d="M381.6 115.0h0M416.1 77.4h0M470.5 105.6h0" stroke="#de1d10"/><path d="M396.6 105.6h0M437.6 81.8h0" stroke="#e23512"/><path d="M398.9 103.8h0" stroke="#e43c11"/><path d="M404.3 101.4h0" stroke="#e84e10"/><path d="M405.1 101.2h0M455.7 99.1h0" stroke="#e85010"/><path d="M405.8 101.0h0M457.3 101.8h0" stroke="#e85210"/><path d="M409.6 99.9h0" stroke="#ea5910"/><path d="M415.7 98.5h0" stroke="#eb6510"/><path d="M427.5 101.5h0" stroke="#ee7710"/><path d="M178.6 220.3h0M224.2 194.5h0M246.3 189.1h0M268.2 183.1h0M289.9 172.7h0M311.5 163.4h0M332.8 142.1h0M354.1 120.2h0M375.3 94.4h0M396.4 67.3h0M417.4 51.8h0M438.4 54.4h0M459.3 71.9h0M480.2 101.6h0M501.0 139.0h0M521.8 173.5h0M542.5 204.9h0M563.2 236.9h0M583.8 270.0h0M604.5 298.7h0M625.1 330.2h0M645.6 361.7h0" stroke="#111146"/><path d="M185.9 209.8h0M209.5 198.4h0M232.4 189.1h0M255.0 184.6h0M277.2 180.5h0M299.2 169.6h0M321.0 151.9h0M342.6 131.1h0M364.0 107.7h0M385.4 81.2h0M406.6 59.6h0M427.8 52.0h0M448.9 61.1h0M470.0 85.5h0M491.0 121.9h0M511.9 156.6h0M532.8 190.6h0M553.6 223.1h0M574.4 257.3h0M595.2 283.2h0M615.9 317.1h0M636.6 345.7h0" stroke="#111148"/><path d="M246.4 200.1h0" stroke="#121b5d"/><path d="M253.1 199.1h0M309.9 166.1h0M337.1 141.5h0M363.7 113.7h0M389.9 80.2h0M415.7 63.3h0M440.9 64.5h0M465.6 83.4h0M489.8 120.8h0M513.7 162.2h0M537.3 200.0h0M560.6 237.0h0M583.6 271.1h0M606.5 302.7h0" stroke="#132263"/><path d="M255.3 198.4h0M284.3 182.1h0M312.4 165.5h0M339.7 138.4h0M366.5 108.3h0M392.8 78.8h0M418.6 62.2h0M444.1 65.2h0M468.9 89.3h0M493.3 127.3h0M517.3 167.5h0M541.0 205.9h0M564.4 240.6h0M587.6 276.5h0M610.5 312.0h0" stroke="#132465"/><path d="M257.4 196.9h0" stroke="#132767"/><path d="M271.8 190.9h0" stroke="#153875"/><path d="M273.8 191.0h0" stroke="#153a77"/><path d="M286.9 182.9h0" stroke="#194e7f"/><path d="M288.7 182.7h0" stroke="#195180"/><path d="M290.5 181.2h0" stroke="#1a5481"/><path d="M294.0 178.7h0" stroke="#1b5a84"/><path d="M295.7 178.1h0" stroke="#1c5d85"/><path d="M316.6 165.2h0" stroke="#1f8188"/><path d="M324.0 160.8h0" stroke="#1e8b83"/><path d="M340.4 145.8h0" stroke="#1a9a6d"/><path d="M350.5 136.8h0M426.7 66.6h0M461.8 88.8h0M495.6 142.1h0M528.3 198.1h0" stroke="#189f53"/><path d="M360.0 126.6h0" stroke="#1da03e"/><path d="M370.2 115.4h0" stroke="#209f28"/><path d="M371.2 115.4h0M414.2 73.6h0" stroke="#209e26"/><path d="M378.7 106.7h0" stroke="#1b9b16"/><path d="M381.8 102.7h0" stroke="#1d9910"/><path d="M382.8 102.3h0" stroke="#229810"/><path d="M383.9 102.0h0" stroke="#289710"/><path d="M384.9 100.3h0" stroke="#2d9610"/><path d="M385.9 100.6h0" stroke="#329510"/><path d="M386.9 98.6h0" stroke="#389410"/><path d="M387.9 98.3h0M431.4 70.4h0" stroke="#3d9310"/><path d="M388.9 97.8h0" stroke="#429210"/><path d="M390.9 96.1h0" stroke="#4d9010"/><path d="M391.8 96.3h0" stroke="#548e10"/><path d="M392.8 93.8h0" stroke="#5a8b10"/><path d="M393.8 92.4h0" stroke="#618910"/><path d="M394.8 92.1h0" stroke="#688610"/><path d="M395.7 92.6h0M482.5 125.2h0" stroke="#6f8410"/><path d="M397.7 89.2h0M484.8 129.6h0" stroke="#7d7f10"/><path d="M398.6 86.6h0" stroke="#897a10"/><path d="M399.6 88.5h0" stroke="#927311"/><path d="M400.5 86.9h0" stroke="#9b6b12"/><path d="M401.5 86.1h0M492.6 146.2h0" stroke="#a36314"/><path d="M402.4 84.8h0" stroke="#ac5b15"/><path d="M403.3 84.9h0" stroke="#b55316"/><path d="M404.3 84.2h0" stroke="#be4a18"/><path d="M406.1 82.8h0" stroke="#ca3815"/><path d="M408.9 81.7h0" stroke="#d72412"/><path d="M409.8 81.2h0" stroke="#d92111"/><path d="M439.3 83.1h0" stroke="#e33711"/><path d="M445.1 87.9h0" stroke="#e54011"/><path d="M277.2 185.9h0M304.8 169.5h0M331.7 145.7h0M358.1 118.9h0M384.1 86.6h0M409.6 64.1h0M434.4 61.9h0M458.8 75.6h0M482.7 109.0h0M506.4 150.6h0M529.7 187.5h0M552.8 223.2h0M575.7 259.0h0M598.4 287.2h0" stroke="#121d5e"/><path d="M282.0 183.5h0" stroke="#132163"/><path d="M293.5 177.2h0" stroke="#142d6d"/><path d="M306.4 170.0h0" stroke="#163c77"/><path d="M308.5 167.8h0M338.2 142.4h0M367.0 111.0h0M395.2 77.6h0M422.7 62.5h0M449.7 70.2h0M476.3 100.6h0M502.5 144.2h0M528.3 188.2h0M553.9 226.7h0M579.0 265.7h0" stroke="#163f79"/><path d="M310.6 166.7h0M340.4 139.6h0M369.4 106.5h0M397.6 75.8h0M425.2 63.1h0M452.4 71.0h0M479.0 104.9h0M505.3 149.1h0M531.3 193.4h0M557.0 233.2h0M582.2 270.7h0" stroke="#17427a"/><path d="M322.5 159.1h0" stroke="#1a5281"/><path d="M330.1 154.1h0" stroke="#1c5e85"/><path d="M333.7 150.0h0" stroke="#1d6388"/><path d="M335.6 148.3h0" stroke="#1d6688"/><path d="M346.1 137.5h0M378.7 97.6h0M410.1 68.8h0M440.6 68.5h0M470.3 95.7h0M499.3 142.7h0M527.8 192.2h0M555.7 234.5h0" stroke="#1e7788"/><path d="M351.2 131.9h0" stroke="#1e7f88"/><path d="M352.8 130.6h0M386.0 89.4h0M417.9 68.1h0M448.9 70.0h0M479.0 108.0h0M508.4 159.4h0M537.2 207.8h0M565.5 250.7h0" stroke="#1f8288"/><path d="M356.1 128.0h0" stroke="#1f8788"/><path d="M379.0 102.7h0" stroke="#1a9a6e"/><path d="M381.8 99.3h0" stroke="#1a9b68"/><path d="M388.8 90.8h0" stroke="#199e58"/><path d="M391.5 92.0h0" stroke="#18a052"/><path d="M398.1 84.9h0" stroke="#1ba045"/><path d="M419.0 68.7h0" stroke="#1d9d1d"/><path d="M423.6 70.6h0" stroke="#1b9b14"/><path d="M424.7 70.1h0M463.4 94.5h0M501.5 155.1h0" stroke="#1b9a12"/><path d="M425.8 69.5h0M464.6 97.1h0M502.9 159.3h0" stroke="#1a9a10"/><path d="M428.1 68.0h0M467.1 99.3h0M505.6 164.4h0" stroke="#249810"/><path d="M429.2 70.7h0" stroke="#2c9610"/><path d="M430.3 69.7h0" stroke="#359510"/><path d="M432.5 69.4h0" stroke="#459210"/><path d="M434.6 70.1h0" stroke="#588c10"/><path d="M435.7 69.0h0" stroke="#638810"/><path d="M436.8 72.7h0" stroke="#6d8510"/><path d="M437.8 72.6h0" stroke="#718310"/><path d="M438.9 70.6h0" stroke="#748210"/><path d="M442.0 73.0h0" stroke="#7b7f10"/><path d="M443.1 73.2h0" stroke="#7e7f10"/><path d="M444.1 72.9h0" stroke="#807e10"/><path d="M445.1 75.3h0" stroke="#827d10"/><path d="M446.2 78.1h0" stroke="#857c10"/><path d="M449.2 78.0h0" stroke="#8c7910"/><path d="M450.2 79.4h0" stroke="#8d7710"/><path d="M451.2 78.0h0M488.1 137.0h0" stroke="#8f7511"/><path d="M453.2 81.7h0" stroke="#927211"/><path d="M455.2 83.3h0" stroke="#9c6913"/><path d="M461.1 90.6h0" stroke="#c24517"/><path d="M463.0 94.0h0" stroke="#ca3715"/><path d="M463.9 94.8h0" stroke="#cf3114"/><path d="M465.8 97.5h0" stroke="#d72312"/><path d="M466.8 99.6h0" stroke="#db1c11"/><path d="M302.2 171.4h0M329.0 150.0h0M355.3 122.6h0M381.1 90.4h0M406.4 65.9h0M431.1 59.6h0M455.3 71.7h0M479.1 102.7h0M502.6 143.3h0M525.8 182.0h0M548.8 216.9h0M571.6 251.8h0M594.2 287.9h0M616.6 317.4h0" stroke="#121b5c"/><path d="M307.3 167.8h0M334.4 143.6h0M361.0 115.5h0M387.0 83.3h0M412.7 62.9h0M437.7 62.4h0M462.2 79.7h0M486.3 115.4h0M510.0 156.3h0M533.5 194.2h0M556.7 229.1h0M579.7 265.0h0M602.4 293.9h0" stroke="#131f61"/><path d="M314.9 163.3h0M342.4 135.3h0M369.3 106.3h0M395.6 76.1h0M421.6 61.5h0M447.2 67.2h0M472.2 93.7h0M496.7 133.4h0M520.8 175.1h0M544.6 212.1h0M568.1 245.5h0M591.4 281.9h0" stroke="#132667"/><path d="M317.3 161.0h0M344.9 133.3h0M371.9 103.0h0M398.5 73.1h0M424.5 62.7h0M450.3 69.5h0M475.5 97.6h0M500.1 139.5h0M524.4 179.4h0M548.3 217.5h0M571.9 251.8h0M595.3 288.6h0" stroke="#132869"/><path d="M319.7 157.8h0M347.5 131.8h0M374.6 99.8h0M401.3 72.2h0M427.4 62.2h0M453.2 71.5h0M478.6 102.4h0M503.5 144.3h0M527.8 186.7h0M551.8 223.9h0M575.6 256.9h0M599.0 293.9h0" stroke="#132b6b"/><path d="M324.5 154.7h0M352.5 125.2h0M379.9 93.1h0M406.8 68.1h0M433.1 62.5h0M459.2 76.4h0M484.8 112.6h0M510.0 156.8h0M534.6 197.3h0M558.9 235.2h0M582.8 270.0h0M606.5 306.1h0" stroke="#142f70"/><path d="M331.5 149.5h0M359.9 118.6h0M387.6 84.5h0M414.8 65.0h0M441.5 67.2h0M467.8 87.8h0M493.8 129.5h0M519.4 172.5h0M544.5 213.4h0M569.1 248.6h0M593.4 282.4h0" stroke="#153775"/><path d="M333.7 145.6h0M362.3 115.9h0M390.2 81.5h0M417.4 63.6h0M444.3 67.6h0M470.6 91.9h0M496.7 134.9h0M522.4 178.6h0M547.7 218.2h0M572.5 255.0h0M596.9 291.5h0" stroke="#153a76"/><path d="M336.0 143.3h0M364.7 112.9h0M392.7 79.1h0M420.1 63.3h0M447.0 67.8h0M473.5 96.8h0M499.6 138.6h0M525.4 183.9h0M550.8 221.8h0M575.8 260.2h0M600.3 293.1h0" stroke="#163c78"/><path d="M342.6 136.4h0M371.7 104.4h0M400.1 74.1h0M427.8 62.5h0M455.0 73.4h0M481.8 109.1h0M508.1 156.0h0M534.2 197.7h0M560.0 237.7h0M585.4 275.1h0" stroke="#17457b"/><path d="M346.9 133.7h0M376.3 98.5h0M404.9 69.3h0M432.8 63.2h0M460.2 79.2h0M487.2 118.6h0M513.8 164.7h0M540.0 207.1h0M565.9 247.4h0M591.5 285.3h0" stroke="#184b7d"/><path d="M349.1 131.0h0M378.5 96.1h0M407.2 68.7h0M435.3 64.6h0M462.8 82.3h0M489.9 124.2h0M516.5 169.4h0M542.8 212.5h0M568.8 252.1h0M594.5 290.2h0" stroke="#194d7f"/><path d="M353.2 127.0h0M383.0 91.0h0M411.9 67.8h0M440.2 66.9h0M467.9 89.4h0M495.2 133.4h0M522.0 179.4h0M548.5 220.6h0M574.6 262.6h0" stroke="#1a5381"/><path d="M357.4 122.4h0M387.4 84.7h0M416.5 66.1h0M445.0 66.1h0M473.0 97.6h0M500.4 141.7h0M527.4 188.6h0M554.0 230.6h0M580.3 268.8h0" stroke="#1b5983"/><path d="M359.4 120.1h0M389.5 83.2h0M418.8 63.5h0M447.4 69.7h0M475.4 101.3h0M503.0 147.5h0M530.1 192.9h0M556.8 234.8h0M583.1 275.5h0" stroke="#1b5c84"/><path d="M365.4 113.1h0M395.9 78.5h0M425.5 65.8h0M454.5 75.9h0M482.8 112.3h0M510.6 161.7h0M538.0 206.4h0M564.9 247.3h0" stroke="#1d6488"/><path d="M376.8 99.5h0M408.1 67.1h0M438.5 67.0h0M468.1 90.0h0M497.0 139.3h0M525.4 186.7h0M553.2 230.3h0M580.7 272.2h0" stroke="#1e7588"/><path d="M391.3 84.8h0M423.6 65.6h0M454.9 78.2h0M485.3 119.6h0M515.1 171.0h0M544.1 219.3h0M572.7 262.5h0" stroke="#1f8986"/><path d="M393.0 80.1h0M425.5 64.5h0M456.9 79.9h0M487.4 123.9h0M517.3 176.4h0M546.4 222.7h0" stroke="#1e8b85"/><path d="M398.2 78.9h0M431.0 63.6h0M462.8 86.4h0M493.6 135.7h0M523.7 186.7h0M553.2 234.5h0" stroke="#1d8e7f"/><path d="M399.9 77.5h0M432.8 66.4h0M464.7 89.2h0M495.7 137.9h0M525.9 191.2h0M555.4 236.8h0" stroke="#1d907e"/><path d="M404.9 70.5h0M438.2 65.2h0M470.4 97.5h0M501.7 149.3h0M532.2 200.9h0M562.0 248.0h0" stroke="#1c9479"/><path d="M409.7 69.3h0M443.4 69.4h0M476.0 106.0h0M507.6 159.8h0M538.4 212.2h0" stroke="#1b9773"/><path d="M411.3 71.1h0M445.2 72.1h0M477.8 109.6h0M509.5 163.9h0M540.4 215.5h0" stroke="#1a9972"/><path d="M417.6 65.4h0M451.9 77.6h0M485.1 122.3h0M517.2 178.1h0M548.4 230.2h0" stroke="#199c66"/><path d="M419.2 66.2h0M453.6 74.8h0M486.8 125.7h0M519.0 182.5h0M550.4 233.1h0" stroke="#199c63"/><path d="M425.2 63.5h0M460.1 85.9h0M493.8 138.1h0M526.5 194.8h0" stroke="#189f56"/><path d="M443.8 74.4h0M480.3 116.7h0M515.4 177.6h0" stroke="#20a035"/><path d="M468.3 104.3h0M506.9 165.8h0" stroke="#2a9710"/><path d="M469.5 103.6h0M508.2 169.2h0" stroke="#2f9610"/><path d="M473.1 109.9h0" stroke="#3e9310"/><path d="M474.3 111.5h0" stroke="#449210"/><path d="M477.9 117.8h0" stroke="#558e10"/><path d="M479.0 120.0h0" stroke="#5b8b10"/><path d="M480.2 122.1h0" stroke="#628910"/><path d="M481.3 123.1h0" stroke="#698610"/><path d="M485.9 131.4h0" stroke="#837c10"/><path d="M489.3 138.9h0" stroke="#947111"/><path d="M490.4 141.8h0" stroke="#996c12"/><path d="M494.7 149.2h0" stroke="#ac5a15"/></g><path d="M86.4 26.4H684.4V413.3H86.4ZM101.35 413.3v-3.7M101.35 26.4v3.7M116.3 413.3v-7.5M116.3 26.4v7.5M131.25 413.3v-3.7M131.25 26.4v3.7M146.2 413.3v-3.7M146.2 26.4v3.7M161.15 413.3v-3.7M161.15 26.4v3.7M176.1 413.3v-3.7M176.1 26.4v3.7M191.05 413.3v-3.7M191.05 26.4v3.7M206.0 413.3v-3.7M206.0 26.4v3.7M220.95 413.3v-3.7M220.95 26.4v3.7M235.9 413.3v-3.7M235.9 26.4v3.7M250.85 413.3v-3.7M250.85 26.4v3.7M265.8 413.3v-7.5M265.8 26.4v7.5M280.75 413.3v-3.7M280.75 26.4v3.7M295.7 413.3v-3.7M295.7 26.4v3.7M310.65 413.3v-3.7M310.65 26.4v3.7M325.6 413.3v-3.7M325.6 26.4v3.7M340.55 413.3v-3.7M340.55 26.4v3.7M355.5 413.3v-3.7M355.5 26.4v3.7M370.45 413.3v-3.7M370.45 26.4v3.7M385.4 413.3v-3.7M385.4 26.4v3.7M400.35 413.3v-3.7M400.35 26.4v3.7M415.3 413.3v-7.5M415.3 26.4v7.5M430.25 413.3v-3.7M430.25 26.4v3.7M445.2 413.3v-3.7M445.2 26.4v3.7M460.15 413.3v-3.7M460.15 26.4v3.7M475.1 413.3v-3.7M475.1 26.4v3.7M490.05 413.3v-3.7M490.05 26.4v3.7M505.0 413.3v-3.7M505.0 26.4v3.7M519.95 413.3v-3.7M519.95 26.4v3.7M534.9 413.3v-3.7M534.9 26.4v3.7M549.85 413.3v-3.7M549.85 26.4v3.7M564.8 413.3v-7.5M564.8 26.4v7.5M579.75 413.3v-3.7M579.75 26.4v3.7M594.7 413.3v-3.7M594.7 26.4v3.7M609.65 413.3v-3.7M609.65 26.4v3.7M624.6 413.3v-3.7M624.6 26.4v3.7M639.55 413.3v-3.7M639.55 26.4v3.7M654.5 413.3v-3.7M654.5 26.4v3.7M669.45 413.3v-3.7M669.45 26.4v3.7M86.4 379.8h5.6M684.4 379.8h-5.6M86.4 360.21h5.6M684.4 360.21h-5.6M86.4 346.31h5.6M684.4 346.31h-5.6M86.4 335.53h5.6M684.4 335.53h-5.6M86.4 326.71h5.6M684.4 326.71h-5.6M86.4 319.27h5.6M684.4 319.27h-5.6M86.4 312.81h5.6M684.4 312.81h-5.6M86.4 307.12h5.6M684.4 307.12h-5.6M86.4 302.03h11.5M684.4 302.03h-11.5M86.4 268.53h5.6M684.4 268.53h-5.6M86.4 248.94h5.6M684.4 248.94h-5.6M86.4 235.04h5.6M684.4 235.04h-5.6M86.4 224.26h5.6M684.4 224.26h-5.6M86.4 215.44h5.6M684.4 215.44h-5.6M86.4 208.0h5.6M684.4 208.0h-5.6M86.4 201.54h5.6M684.4 201.54h-5.6M86.4 195.85h5.6M684.4 195.85h-5.6M86.4 190.76h11.5M684.4 190.76h-11.5M86.4 157.26h5.6M684.4 157.26h-5.6M86.4 137.67h5.6M684.4 137.67h-5.6M86.4 123.77h5.6M684.4 123.77h-5.6M86.4 112.99h5.6M684.4 112.99h-5.6M86.4 104.17h5.6M684.4 104.17h-5.6M86.4 96.73h5.6M684.4 96.73h-5.6M86.4 90.27h5.6M684.4 90.27h-5.6M86.4 84.58h5.6M684.4 84.58h-5.6M86.4 79.49h11.5M684.4 79.49h-11.5M86.4 45.99h5.6M684.4 45.99h-5.6M86.4 26.4h5.6M684.4 26.4h-5.6" fill="none" stroke="#0a0a0a" stroke-width="1.2"/><path transform="translate(191.60 16.30) scale(0.07136 0.07136)" d="M5294 -149l-22 11-10 10-2 8 0 20 2 8 14 12 86 38 8 7 0 10-8 7-14 8-36 0-14-8-10-10-8-16-10-6-6 2-4 8 1 44 9 6 6-2 8-10 26 12 46-1 22-11 10-10 2-8 0-30-2-8-14-12-64-26-22-12-8-7 8-7 14-8 36 0 14 8 10 10 8 16 10 6 6-2 4-8-1-44-9-6-6 2-8 10-26-12zM5136 -150l-30 10-24 22-12 34 0 28 10 30 22 24 34 12 28 0 34-12 20-20 2-8-2-6-8-4-8 2-21 20-22 8-17 0-14-8-19-18-9-25 0-8 110-1 9-6 1-24-10-24-16-16-24-10zM5105 -94l4-10 19-18 14-8 26 0 12 6 10 16-1 18-83 0zM4726 -150l-30 10-24 22-12 34 0 28 10 30 22 24 34 12 28 0 30-10 24-22 12-34 0-28-10-30-22-24-34-12zM4732 -130l16 0 14 8 19 18 9 25 0 18-9 25-19 18-14 8-16 0-14-8-19-18-9-25 0-18 9-25 19-18zM4321 -144l-1 4 4 8 26 3 0 118-26 3-4 8 6 9 74 1 8-4 2-6-4-8-26-3 0-94 16-16 25-9 17 0 12 6 10 16 0 97-26 3-4 8 4 8 6 2 70 0 8-4 2-6-4-8-26-3 0-94 16-16 25-9 17 0 12 6 10 16 0 97-26 3-4 8 2 6 8 4 70 0 9-6 1-4-4-8-26-3 0-99-10-24-6-6-30-10-28 0-30 10-14 11-8-11-30-10-28 0-30 10-5 4-3-10-8-4-40 0zM3942 -146l-2 6 4 8 26 3 0 118-26 3-4 8 4 8 6 2 70 0 8-4 2-6-4-8-26-3 0-94 16-16 25-9 17 0 12 6 10 16 0 97-26 3-4 8 2 6 8 4 70 0 8-4 2-6-4-8-26-3 0-99-10-24-6-6-30-10-28 0-30 10-5 4-3-10-8-4-40 0zM3816 -150l-30 10-24 22-12 34 0 28 10 30 22 24 34 12 28 0 30-10 24-22 12-34 0-28-10-30-22-24-34-12zM3822 -130l16 0 14 8 19 18 9 25 0 18-9 25-19 18-14 8-16 0-14-8-19-18-9-25 0-18 9-25 19-18zM3634 -148l-4 8 4 8 26 3 0 118-26 3-4 8 2 6 8 4 70 0 6-2 4-8-4-8-26-3 0-129-2-6-8-4-40 0zM3302 -128l-2 18 2 6 8 4 16-2 4-8-1-12 13-8 36 0 14 8 8 7 0 10-6 6-58 9-30 10-6 6-9 18-1 26 10 24 6 6 30 10 34 0 24-10 14-11 8 11 18 9 16 1 8-4 2-6-2-6-13-4-7-8-8-14-1-74-11-22-10-10-28-12-40 0-24 10zM3400 -79l0 44-18 17-14 8-26 0-16-10-6-12 0-16 10-16 15-7zM2954 -148l-4 8 4 8 26 3 0 118-26 3-4 8 2 6 8 4 70 0 6-2 4-8-4-8-26-3 0-129-2-6-8-4-40 0zM2836 -150l-30 10-24 22-12 34 0 28 10 30 22 24 34 12 28 0 34-12 20-20 2-8-2-6-8-4-8 2-18 19-25 9-17 0-14-8-19-18-9-25 0-18 8-22 20-21 14-8 26 0 14 8 8 7-8 7-2 8 2 8 10 10 8 2 8-2 10-10 2-18-2-8-20-20-22-11zM2634 -149l-22 11-10 10-2 8 0 20 2 8 14 12 86 38 8 7 0 10-8 7-14 8-36 0-14-8-10-10-8-16-10-6-6 2-4 8 1 44 9 6 6-2 8-10 26 12 46-1 22-11 10-10 2-8 0-30-2-8-14-12-64-26-22-12-8-7 8-7 14-8 36 0 14 8 10 10 8 16 10 6 6-2 4-8-1-44-9-6-6 2-8 10-26-12zM2466 -150l-30 10-24 22-12 34 0 28 10 30 22 24 34 12 28 0 30-10 24-22 12-34 0-28-10-30-22-24-34-12zM2472 -130l16 0 14 8 19 18 9 25 0 18-9 25-19 18-14 8-16 0-14-8-19-18-9-25 0-18 9-25 19-18zM1976 -150l-30 10-24 22-12 34 0 28 10 30 22 24 34 12 28 0 30-10 24-22 12-34 0-28-10-30-22-24-34-12zM1982 -130l16 0 14 8 19 18 9 25 0 18-9 25-19 18-14 8-16 0-14-8-19-18-9-25 0-18 9-25 19-18zM1626 -150l-30 10-24 22-12 34 0 28 10 30 22 24 34 12 28 0 34-12 20-20 2-8-2-6-8-4-8 2-21 20-22 8-17 0-14-8-19-18-9-25 0-8 110-1 9-6 1-24-10-24-16-16-24-10zM1595 -94l4-10 19-18 14-8 26 0 12 6 10 16-1 18-83 0zM1122 -146l-2 6 4 8 26 3 0 99 10 24 6 6 30 10 28 0 30-10 5-4 3 10 8 4 40 0 8-4 2-6-4-8-26-3 0-129-4-8-6-2-40 0-9 6-1 4 4 8 26 3 0 94-16 16-25 9-17 0-12-6-10-16 0-108-2-6-8-4-40 0zM864 -148l-4 8 4 8 26 3 0 118-26 3-4 8 2 6 8 4 70 0 6-2 4-8-4-8-26-3 0-129-2-6-8-4-40 0zM550 -150l-9 6-1 4 2 6 8 4 20 1 0 188-24 2-6 9 2 6 8 4 70 0 9-6 1-4-2-6-8-4-20-1 0-61 1-2 29 14 24 0 34-12 22-24 10-30 0-28-10-30-26-26-30-10-24 0-29 14-3-10-8-4zM632 -130l16 0 14 8 19 18 9 25 0 18-9 25-19 18-14 8-16 0-14-8-18-17 0-70 18-17zM211 -144l-1 4 4 8 26 3 0 118-26 3-4 8 6 9 74 1 8-4 2-6-4-8-26-3 0-94 16-16 25-9 17 0 12 6 10 16 0 97-26 3-4 8 4 8 6 2 70 0 8-4 2-6-4-8-26-3 0-94 16-16 25-9 17 0 12 6 10 16 0 97-26 3-4 8 2 6 8 4 70 0 9-6 1-4-4-8-26-3 0-99-10-24-6-6-30-10-28 0-30 10-14 11-8-11-30-10-28 0-30 10-5 4-3-10-8-4-40 0zM4960 -220l-9 6-1 4 2 6 8 4 20 1 0 61-1 2-29-14-24 0-34 12-22 24-10 30 0 28 10 30 26 26 30 10 24 0 29-14 3 10 8 4 40 0 9-6 1-4-2-6-8-4-20-1 0-199-2-6-8-4zM4932 -130l16 0 14 8 18 17 0 70-18 17-14 8-16 0-14-8-19-18-9-25 0-18 9-25 19-18zM3670 -220l-8 2-10 10-2 8 2 8 10 10 8 2 8-2 10-10 2-8-2-8-10-10zM3520 -220l-6 2-4 8 0 59-24 2-6 9 6 9 24 2 0 93 10 30 6 6 18 9 32 0 18-9 6-6 10-24-4-8-6-2-10 6-6 14-16 10-13 0-7-9-8-22 0-88 30-1 6-2 4-8-2-6-8-4-30-1 0-59-4-8-6-2-5 2zM3180 -220l-9 6-1 4 2 6 8 4 20 1 0 188-24 2-6 9 2 6 8 4 70 0 9-6 1-4-2-6-8-4-20-1 0-199-2-6-8-4zM3070 -220l-9 6-1 4 2 6 8 4 20 1 0 188-24 2-6 9 2 6 8 4 70 0 9-6 1-4-2-6-8-4-20-1 0-199-2-6-8-4zM2990 -220l-8 2-10 10-2 8 2 8 10 10 8 2 8-2 10-10 2-8-2-8-10-10zM2198 -218l-8-2-20 0-24 10-6 6-9 18-1 35-20 1-9 6-1 4 4 8 26 3 0 118-26 3-4 8 6 9 74 1 9-6 1-4-4-8-26-3 0-118 30-1 6-2 4-8-2-6-8-4-29 0-1-28 10-17 2 13 10 10 8 2 8-2 10-10 2-18-2-8zM1450 -220l-9 6-1 4 2 6 8 4 20 1 0 61-1 2-29-14-24 0-34 12-22 24-10 30 0 28 10 30 26 26 30 10 24 0 29-14 3 10 8 4 40 0 9-6 1-4-2-6-8-4-20-1 0-199-2-6-8-4zM1422 -130l16 0 14 8 18 17 0 70-18 17-14 8-16 0-14-8-19-18-9-25 0-18 9-25 19-18zM1010 -220l-6 2-4 8 0 59-24 2-6 9 6 9 24 2 0 93 10 30 6 6 18 9 32 0 18-9 6-6 10-24-4-8-6-2-10 6-6 14-16 10-13 0-7-9-8-22 0-88 30-1 6-2 4-8-2-6-8-4-30-1 0-59-4-8-6-2-5 2zM900 -220l-8 2-10 10-2 8 2 8 10 10 8 2 8-2 10-10 2-8-2-8-10-10zM760 -220l-9 6-1 4 2 6 8 4 20 1 0 188-24 2-6 9 2 6 8 4 70 0 9-6 1-4-2-6-8-4-20-1 0-199-2-6-8-4zM104 -219l-8 0-6 5-66 202-3 2-15 1-5 5 0 8 5 5 64 1 8-4 2-6-4-8-6-2-25-1 14-39 72 0 14 39-15 1-8 4-2 6 6 9 64 1 9-6 1-4-4-8-17-2-3-2-66-202zM95 -161l30 87-1 4-59-1z" fill="#111" fill-rule="evenodd"/><path transform="translate(28.88 86.81) scale(0.05730 0.05730)" d="M650 -30l-8 2-10 10-2 8 2 8 10 10 8 2 8-2 10-10 2-8-2-8-10-10zM786 -220l-30 10-26 38-10 48 0 38 10 48 21 33 5 5 30 10 28 0 30-10 26-38 10-48 0-38-10-48-21-33-5-5-30-10zM792 -200l16 0 14 8 10 10 9 17 9 44 0 32-9 44-9 17-10 10-14 8-16 0-14-8-10-10-9-17-9-44 0-32 9-44 9-17 10-10zM486 -220l-30 10-26 38-10 48 0 38 10 48 21 33 5 5 30 10 28 0 30-10 26-38 10-48 0-38-10-48-21-33-5-5-30-10zM492 -200l16 0 14 8 10 10 9 17 9 44 0 32-9 44-9 17-10 10-14 8-16 0-14-8-10-10-9-17-9-44 0-32 9-44 9-17 10-10zM286 -220l-30 10-26 38-10 48 0 38 10 48 21 33 5 5 30 10 28 0 30-10 26-38 10-48 0-38-10-48-21-33-5-5-30-10zM292 -200l16 0 14 8 10 10 9 17 9 44 0 32-9 44-9 17-10 10-14 8-16 0-14-8-10-10-9-17-9-44 0-32 9-44 9-17 10-10zM110 -220l-8 2-30 30-16 8-6 10 2 6 8 4 29-14 1 2 0 161-30 1-6 2-4 8 1 4 9 6 90 0 6-2 4-8-2-6-8-4-30-1 0-199-2-6z" fill="#111" fill-rule="evenodd"/><path transform="translate(40.34 198.08) scale(0.05730 0.05730)" d="M450 -30l-8 2-10 10-2 8 2 8 10 10 8 2 8-2 10-10 2-8-2-8-10-10zM586 -220l-30 10-26 38-10 48 0 38 10 48 21 33 5 5 30 10 28 0 30-10 26-38 10-48 0-38-10-48-21-33-5-5-30-10zM592 -200l16 0 14 8 10 10 9 17 9 44 0 32-9 44-9 17-10 10-14 8-16 0-14-8-10-10-9-17-9-44 0-32 9-44 9-17 10-10zM286 -220l-30 10-26 38-10 48 0 38 10 48 21 33 5 5 30 10 28 0 30-10 26-38 10-48 0-38-10-48-21-33-5-5-30-10zM292 -200l16 0 14 8 10 10 9 17 9 44 0 32-9 44-9 17-10 10-14 8-16 0-14-8-10-10-9-17-9-44 0-32 9-44 9-17 10-10zM110 -220l-8 2-30 30-16 8-6 10 2 6 8 4 29-14 1 2 0 161-30 1-6 2-4 8 1 4 9 6 90 0 6-2 4-8-2-6-8-4-30-1 0-199-2-6z" fill="#111" fill-rule="evenodd"/><path transform="translate(51.80 309.35) scale(0.05730 0.05730)" d="M250 -30l-8 2-10 10-2 8 2 8 10 10 8 2 8-2 10-10 2-8-2-8-10-10zM386 -220l-30 10-26 38-10 48 0 38 10 48 21 33 5 5 30 10 28 0 30-10 26-38 10-48 0-38-10-48-21-33-5-5-30-10zM392 -200l16 0 14 8 10 10 9 17 9 44 0 32-9 44-9 17-10 10-14 8-16 0-14-8-10-10-9-17-9-44 0-32 9-44 9-17 10-10zM110 -220l-8 2-30 30-16 8-6 10 2 6 8 4 29-14 1 2 0 161-30 1-6 2-4 8 1 4 9 6 90 0 6-2 4-8-2-6-8-4-30-1 0-199-2-6z" fill="#111" fill-rule="evenodd"/><path transform="translate(51.64 413.43) scale(0.05730 0.05730)" d="M250 -30l-8 2-10 10-2 8 2 8 10 10 8 2 8-2 10-10 2-8-2-8-10-10zM410 -220l-8 2-30 30-16 8-6 10 2 6 8 4 29-14 1 2 0 161-30 1-6 2-4 8 1 4 9 6 90 0 6-2 4-8-2-6-8-4-30-1 0-199-2-6zM86 -220l-30 10-26 38-10 48 0 38 10 48 21 33 5 5 30 10 28 0 30-10 26-38 10-48 0-38-10-48-21-33-5-5-30-10zM92 -200l16 0 14 8 10 10 9 17 9 44 0 32-9 44-9 17-10 10-14 8-16 0-14-8-10-10-9-17-9-44 0-32 9-44 9-17 10-10z" fill="#111" fill-rule="evenodd"/><path transform="translate(93.12 439.32) scale(0.05730 0.05730)" d="M686 -220l-30 10-26 38-10 48 0 38 10 48 21 33 5 5 30 10 28 0 30-10 26-38 10-48 0-38-10-48-21-33-5-5-30-10zM692 -200l16 0 14 8 10 10 9 17 9 44 0 32-9 44-9 17-10 10-14 8-16 0-14-8-10-10-9-17-9-44 0-32 9-44 9-17 10-10zM486 -220l-30 10-26 38-10 48 0 38 10 48 21 33 5 5 30 10 28 0 30-10 26-38 10-48 0-38-10-48-21-33-5-5-30-10zM492 -200l16 0 14 8 10 10 9 17 9 44 0 32-9 44-9 17-10 10-14 8-16 0-14-8-10-10-9-17-9-44 0-32 9-44 9-17 10-10zM286 -220l-30 10-26 38-10 48 0 38 10 48 21 33 5 5 30 10 28 0 30-10 26-38 10-48 0-38-10-48-21-33-5-5-30-10zM292 -200l16 0 14 8 10 10 9 17 9 44 0 32-9 44-9 17-10 10-14 8-16 0-14-8-10-10-9-17-9-44 0-32 9-44 9-17 10-10zM110 -220l-8 2-30 30-16 8-6 10 2 6 8 4 29-14 1 2 0 161-30 1-6 2-4 8 1 4 9 6 90 0 6-2 4-8-2-6-8-4-30-1 0-199-2-6z" fill="#111" fill-rule="evenodd"/><path transform="translate(242.28 439.32) scale(0.05730 0.05730)" d="M686 -220l-30 10-26 38-10 48 0 38 10 48 21 33 5 5 30 10 28 0 30-10 26-38 10-48 0-38-10-48-21-33-5-5-30-10zM692 -200l16 0 14 8 10 10 9 17 9 44 0 32-9 44-9 17-10 10-14 8-16 0-14-8-10-10-9-17-9-44 0-32 9-44 9-17 10-10zM486 -220l-30 10-26 38-10 48 0 38 10 48 21 33 5 5 30 10 28 0 30-10 26-38 10-48 0-38-10-48-21-33-5-5-30-10zM492 -200l16 0 14 8 10 10 9 17 9 44 0 32-9 44-9 17-10 10-14 8-16 0-14-8-10-10-9-17-9-44 0-32 9-44 9-17 10-10zM286 -220l-30 10-26 38-10 48 0 38 10 48 21 33 5 5 30 10 28 0 30-10 26-38 10-48 0-38-10-48-21-33-5-5-30-10zM292 -200l16 0 14 8 10 10 9 17 9 44 0 32-9 44-9 17-10 10-14 8-16 0-14-8-10-10-9-17-9-44 0-32 9-44 9-17 10-10zM46 -210l-14 12-11 22-1 16 2 8 10 10 8 2 8-2 10-10 2-8-2-8-12-11 2-3 8-9 25-9 37 0 14 8 10 10 8 14 0 16-10 17-22 15-62 30-24 22-12 34 0 34 2 6 8 4 6-2 4-8 0-15 5-5 13 0 47 29 45 1 8-2 10-10 11-22 1-26-6-9-4-1-8 4-2 6 0 15-8 7-14 8-27 0-45-19-20-1-1-4 4-10 19-18 70-30 32-24 10-24-1-26-9-18-16-16-30-10-48 0z" fill="#111" fill-rule="evenodd"/><path transform="translate(391.78 439.32) scale(0.05730 0.05730)" d="M686 -220l-30 10-26 38-10 48 0 38 10 48 21 33 5 5 30 10 28 0 30-10 26-38 10-48 0-38-10-48-21-33-5-5-30-10zM692 -200l16 0 14 8 10 10 9 17 9 44 0 32-9 44-9 17-10 10-14 8-16 0-14-8-10-10-9-17-9-44 0-32 9-44 9-17 10-10zM486 -220l-30 10-26 38-10 48 0 38 10 48 21 33 5 5 30 10 28 0 30-10 26-38 10-48 0-38-10-48-21-33-5-5-30-10zM492 -200l16 0 14 8 10 10 9 17 9 44 0 32-9 44-9 17-10 10-14 8-16 0-14-8-10-10-9-17-9-44 0-32 9-44 9-17 10-10zM286 -220l-30 10-26 38-10 48 0 38 10 48 21 33 5 5 30 10 28 0 30-10 26-38 10-48 0-38-10-48-21-33-5-5-30-10zM292 -200l16 0 14 8 10 10 9 17 9 44 0 32-9 44-9 17-10 10-14 8-16 0-14-8-10-10-9-17-9-44 0-32 9-44 9-17 10-10zM76 -220l-30 10-14 12-11 22-1 16 2 8 10 10 8 2 8-2 10-10 2-8-2-8-12-12 13-12 22-8 37 0 12 6 10 16 0 26-6 12-16 10-32 1-6 9 6 9 32 1 14 8 9 8 9 25 0 27-8 14-10 10-14 8-37 0-25-9-8-9-2-3 12-11 2-8-2-8-10-10-8-2-8 2-10 10-2 8 1 16 11 22 14 12 30 10 48 0 34-12 10-10 11-22 0-42-11-22-20-20 12-8 9-18 0-42-9-18-6-6-30-10z" fill="#111" fill-rule="evenodd"/><path transform="translate(541.57 439.32) scale(0.05730 0.05730)" d="M686 -220l-30 10-26 38-10 48 0 38 10 48 21 33 5 5 30 10 28 0 30-10 26-38 10-48 0-38-10-48-21-33-5-5-30-10zM692 -200l16 0 14 8 10 10 9 17 9 44 0 32-9 44-9 17-10 10-14 8-16 0-14-8-10-10-9-17-9-44 0-32 9-44 9-17 10-10zM486 -220l-30 10-26 38-10 48 0 38 10 48 21 33 5 5 30 10 28 0 30-10 26-38 10-48 0-38-10-48-21-33-5-5-30-10zM492 -200l16 0 14 8 10 10 9 17 9 44 0 32-9 44-9 17-10 10-14 8-16 0-14-8-10-10-9-17-9-44 0-32 9-44 9-17 10-10zM286 -220l-30 10-26 38-10 48 0 38 10 48 21 33 5 5 30 10 28 0 30-10 26-38 10-48 0-38-10-48-21-33-5-5-30-10zM292 -200l16 0 14 8 10 10 9 17 9 44 0 32-9 44-9 17-10 10-14 8-16 0-14-8-10-10-9-17-9-44 0-32 9-44 9-17 10-10zM130 -220l-11 8-104 141-5 11 2 6 8 4 89 0 1 39-20 1-8 4-2 6 1 4 9 6 70 0 6-2 4-8-4-8-26-3 0-38 40-1 6-2 4-8-2-6-8-4-40-1 0-139-2-6zM109 -164l1 93-68 1-1-2z" fill="#111" fill-rule="evenodd"/><path transform="translate(14.30 220.50) rotate(-90) scale(0.05730 0.05730) translate(-1405.0 0)" d="M2716 -150l-30 10-24 22-12 34 0 28 10 30 22 24 34 12 28 0 34-12 20-20 2-8-2-6-8-4-8 2-21 20-22 8-17 0-14-8-19-18-9-25 0-8 110-1 9-6 1-24-10-24-16-16-24-10zM2685 -94l4-10 19-18 14-8 26 0 12 6 10 16-1 18-83 0zM2212 -146l-2 6 4 8 26 3 0 99 10 24 6 6 30 10 28 0 30-10 5-4 3 10 8 4 40 0 8-4 2-6-4-8-26-3 0-129-4-8-6-2-40 0-9 6-1 4 4 8 26 3 0 94-16 16-25 9-17 0-12-6-10-16 0-108-2-6-8-4-40 0zM1954 -148l-4 8 4 8 26 3 0 118-26 3-4 8 2 6 8 4 70 0 6-2 4-8-4-8-26-3 0-129-2-6-8-4-40 0zM1640 -150l-9 6-1 4 2 6 8 4 20 1 0 188-24 2-6 9 2 6 8 4 70 0 9-6 1-4-2-6-8-4-20-1 0-61 1-2 29 14 24 0 34-12 22-24 10-30 0-28-10-30-26-26-30-10-24 0-29 14-3-10-8-4zM1722 -130l16 0 14 8 19 18 9 25 0 18-9 25-19 18-14 8-16 0-14-8-18-17 0-70 18-17zM1301 -144l-1 4 4 8 26 3 0 118-26 3-4 8 6 9 74 1 8-4 2-6-4-8-26-3 0-94 16-16 25-9 17 0 12 6 10 16 0 97-26 3-4 8 4 8 6 2 70 0 8-4 2-6-4-8-26-3 0-94 16-16 25-9 17 0 12 6 10 16 0 97-26 3-4 8 2 6 8 4 70 0 9-6 1-4-4-8-26-3 0-99-10-24-6-6-30-10-28 0-30 10-14 11-8-11-30-10-28 0-30 10-5 4-3-10-8-4-40 0zM1122 -128l-2 18 2 6 8 4 16-2 4-8-1-12 13-8 36 0 14 8 8 7 0 10-6 6-58 9-30 10-6 6-9 18-1 26 10 24 6 6 30 10 34 0 24-10 14-11 8 11 18 9 16 1 8-4 2-6-2-6-13-4-7-8-8-14-1-74-11-22-10-10-28-12-40 0-24 10zM1220 -79l0 44-18 17-14 8-26 0-16-10-6-12 0-16 10-16 15-7zM826 -150l-30 10-24 22-12 34 0 28 10 30 22 24 34 12 28 0 34-12 20-20 2-8-2-6-8-4-8 2-21 20-22 8-17 0-14-8-19-18-9-25 0-8 110-1 9-6 1-24-10-24-16-16-24-10zM795 -94l4-10 19-18 14-8 26 0 12 6 10 16-1 18-83 0zM416 -150l-30 10-24 22-12 34 0 28 10 30 22 24 34 12 28 0 30-10 24-22 12-34 0-28-10-30-22-24-34-12zM422 -130l16 0 14 8 19 18 9 25 0 18-9 25-19 18-14 8-16 0-14-8-19-18-9-25 0-18 9-25 19-18zM11 -144l-1 4 4 8 26 3 0 118-26 3-4 8 6 9 74 1 8-4 2-6-4-8-26-3 0-94 16-16 25-9 17 0 12 6 10 16 0 97-26 3-4 8 4 8 6 2 70 0 8-4 2-6-4-8-26-3 0-94 16-16 25-9 17 0 12 6 10 16 0 97-26 3-4 8 2 6 8 4 70 0 9-6 1-4-4-8-26-3 0-99-10-24-6-6-30-10-28 0-30 10-14 11-8-11-30-10-28 0-30 10-5 4-3-10-8-4-40 0zM2540 -220l-9 6-1 4 2 6 8 4 20 1 0 61-1 2-29-14-24 0-34 12-22 24-10 30 0 28 10 30 26 26 30 10 24 0 29-14 3 10 8 4 40 0 9-6 1-4-2-6-8-4-20-1 0-199-2-6-8-4zM2512 -130l16 0 14 8 18 17 0 70-18 17-14 8-16 0-14-8-19-18-9-25 0-18 9-25 19-18zM2100 -220l-6 2-4 8 0 59-24 2-6 9 6 9 24 2 0 93 10 30 6 6 18 9 32 0 18-9 6-6 10-24-4-8-6-2-10 6-6 14-16 10-13 0-7-9-8-22 0-88 30-1 6-2 4-8-2-6-8-4-30-1 0-59-4-8-6-2-5 2zM1990 -220l-8 2-10 10-2 8 2 8 10 10 8 2 8-2 10-10 2-8-2-8-10-10zM1850 -220l-9 6-1 4 2 6 8 4 20 1 0 188-24 2-6 9 2 6 8 4 70 0 9-6 1-4-2-6-8-4-20-1 0-199-2-6-8-4zM650 -220l-9 6-1 4 2 6 8 4 20 1 0 61-1 2-29-14-24 0-34 12-22 24-10 30 0 28 10 30 26 26 30 10 24 0 29-14 3 10 8 4 40 0 9-6 1-4-2-6-8-4-20-1 0-199-2-6-8-4zM622 -130l16 0 14 8 18 17 0 70-18 17-14 8-16 0-14-8-19-18-9-25 0-18 9-25 19-18z" fill="#111" fill-rule="evenodd"/><path transform="translate(329.08 454.60) scale(0.05730 0.05730)" d="M110 -260l-8 2-20 20-22 34-19 38-11 52 0 48 11 52 19 38 22 34 20 20 8 2 9-6 1-4-2-8-20-20-19-37-10-30-9-44 0-42 9-44 10-30 19-37 20-20 2-8-1-4z" fill="#111" fill-rule="evenodd"/><path transform="translate(350.63 454.60) scale(0.05730 0.05730)" d="M264 -148l-4 8 0 40 2 6 8 4 6-2 4-6 9-32 70 1-97 121-2 8 2 6 8 4 120 0 6-2 4-8 0-40-2-6-8-4-6 2-4 6-9 32-70-1 97-121 2-8-2-6-8-4-120 0zM14 -218l-4 8 4 8 26 3 0 188-26 3-4 8 2 6 8 4 70 0 8-4 2-6-4-8-26-3 1-89 98 0 1 89-26 3-4 8 2 6 8 4 70 0 6-2 4-8-4-8-26-3 0-188 26-3 4-8-2-6-8-4-70 0-8 4-2 6 4 8 26 3-1 79-98 0-1-79 26-3 4-8-2-6-8-4-70 0zM450 -260l-9 6-1 4 2 8 20 20 19 37 10 30 9 44 0 42-9 44-10 30-19 37-20 20-2 8 1 4 9 6 8-2 20-20 22-34 19-38 11-52 0-48-11-52-19-38-22-34-20-20z" fill="#111" fill-rule="evenodd"/><path d="M309.9 447.9L311.2 447.1L312.6 447.1L311.7 454.7Q316.6 452.6 318.1 447.1" fill="none" stroke="#111" stroke-width="1.12" stroke-linejoin="round" stroke-linecap="round"/><path d="M341.3 447.1L339.2 454.2L337.6 459.0M340.3 450.6Q339.3 454.7 342.0 454.7Q345.0 454.6 347.2 449.2M348.0 447.1L346.6 452.6Q346.2 454.8 347.6 454.7Q348.7 454.5 349.5 452.5" fill="none" stroke="#111" stroke-width="1.12" stroke-linejoin="round" stroke-linecap="round"/><defs><linearGradient id="cb" x1="0" x2="1" y1="0" y2="0"><stop offset="0.0000" stop-color="#131313"/><stop offset="0.0497" stop-color="#131313"/><stop offset="0.0500" stop-color="#111146"/><stop offset="0.1233" stop-color="#121658"/><stop offset="0.1667" stop-color="#143474"/><stop offset="0.2233" stop-color="#1d6488"/><stop offset="0.2667" stop-color="#1f8888"/><stop offset="0.3133" stop-color="#1a9a70"/><stop offset="0.3467" stop-color="#18a050"/><stop offset="0.3900" stop-color="#22a030"/><stop offset="0.4367" stop-color="#1a9a10"/><stop offset="0.4700" stop-color="#4e9010"/><stop offset="0.5000" stop-color="#8a7a10"/><stop offset="0.5367" stop-color="#c04818"/><stop offset="0.5700" stop-color="#de1810"/><stop offset="0.6033" stop-color="#e02c12"/><stop offset="0.6667" stop-color="#e85010"/><stop offset="0.7500" stop-color="#f08010"/><stop offset="0.8333" stop-color="#f8b010"/><stop offset="0.9167" stop-color="#fcd810"/><stop offset="1.0000" stop-color="#ffff10"/></linearGradient><pattern id="ht" width="2.4" height="23" patternUnits="userSpaceOnUse" patternTransform="skewX(-8)"><rect x="0" y="0" width="0.9" height="23" fill="#fff" fill-opacity="0.11"/></pattern></defs><rect x="149.0" y="477.0" width="450.0" height="23.0" fill="url(#cb)"/><rect x="149.0" y="477.0" width="450.0" height="23.0" fill="url(#ht)"/><path d="M148.4 499.9H599.6M149.0 500.5v-5.5M164.0 500.5v-2.9M179.0 500.5v-2.9M194.0 500.5v-2.9M209.0 500.5v-2.9M224.0 500.5v-5.5M239.0 500.5v-2.9M254.0 500.5v-2.9M269.0 500.5v-2.9M284.0 500.5v-2.9M299.0 500.5v-5.5M314.0 500.5v-2.9M329.0 500.5v-2.9M344.0 500.5v-2.9M359.0 500.5v-2.9M374.0 500.5v-5.5M389.0 500.5v-2.9M404.0 500.5v-2.9M419.0 500.5v-2.9M434.0 500.5v-2.9M449.0 500.5v-5.5M464.0 500.5v-2.9M479.0 500.5v-2.9M494.0 500.5v-2.9M509.0 500.5v-2.9M524.0 500.5v-5.5M539.0 500.5v-2.9M554.0 500.5v-2.9M569.0 500.5v-2.9M584.0 500.5v-2.9M599.0 500.5v-5.5" fill="none" stroke="#050505" stroke-width="1.35"/></svg><div class="t s" style="left:184.0px;top:289.7px">f mode</div><div class="t s" style="left:269.0px;top:253.7px">p<sub>1</sub></div><div class="t s" style="left:330.5px;top:210.9px">p<sub>2</sub></div><div class="t s" style="left:383.3px;top:168.9px">p<sub>3</sub></div><div class="t s" style="left:423.8px;top:107.9px">p<sub>4</sub></div><div class="t c" style="left:149.0px;top:505.8px">0</div><div class="t c" style="left:224.0px;top:505.8px">50</div><div class="t c" style="left:299.0px;top:505.8px">100</div><div class="t c" style="left:374.0px;top:505.8px">150</div><div class="t c" style="left:449.0px;top:505.8px">200</div><div class="t c" style="left:524.0px;top:505.8px">250</div><div class="t c" style="left:599.0px;top:505.8px">300</div><div class="t a" style="left:354.6px;top:521.1px">angular degree, <b><i>&#8467;</i></b></div><div class="h" style="left:193px;top:0;font-size:22px;width:385px;height:22px">Amplitude of oscillation modes</div><div class="h" style="left:309px;top:440px;font-size:16px;width:73px;height:20px">&nu; (&mu;Hz)</div><div class="h" style="left:3px;top:212px;font-size:16px;width:17px;height:16px">mode amplitude</div><div class="h" style="left:31px;top:73px;font-size:16px;width:48px;height:15px;text-align:right">100.0</div><div class="h" style="left:31px;top:185px;font-size:16px;width:48px;height:15px;text-align:right">10.0</div><div class="h" style="left:31px;top:296px;font-size:16px;width:48px;height:15px;text-align:right">1.0</div><div class="h" style="left:31px;top:400px;font-size:16px;width:48px;height:15px;text-align:right">0.1</div><div class="h" style="left:95px;top:426px;font-size:16px;width:42px;height:15px;text-align:center">1000</div><div class="h" style="left:245px;top:426px;font-size:16px;width:42px;height:15px;text-align:center">2000</div><div class="h" style="left:394px;top:426px;font-size:16px;width:42px;height:15px;text-align:center">3000</div><div class="h" style="left:544px;top:426px;font-size:16px;width:42px;height:15px;text-align:center">4000</div></body></html>
